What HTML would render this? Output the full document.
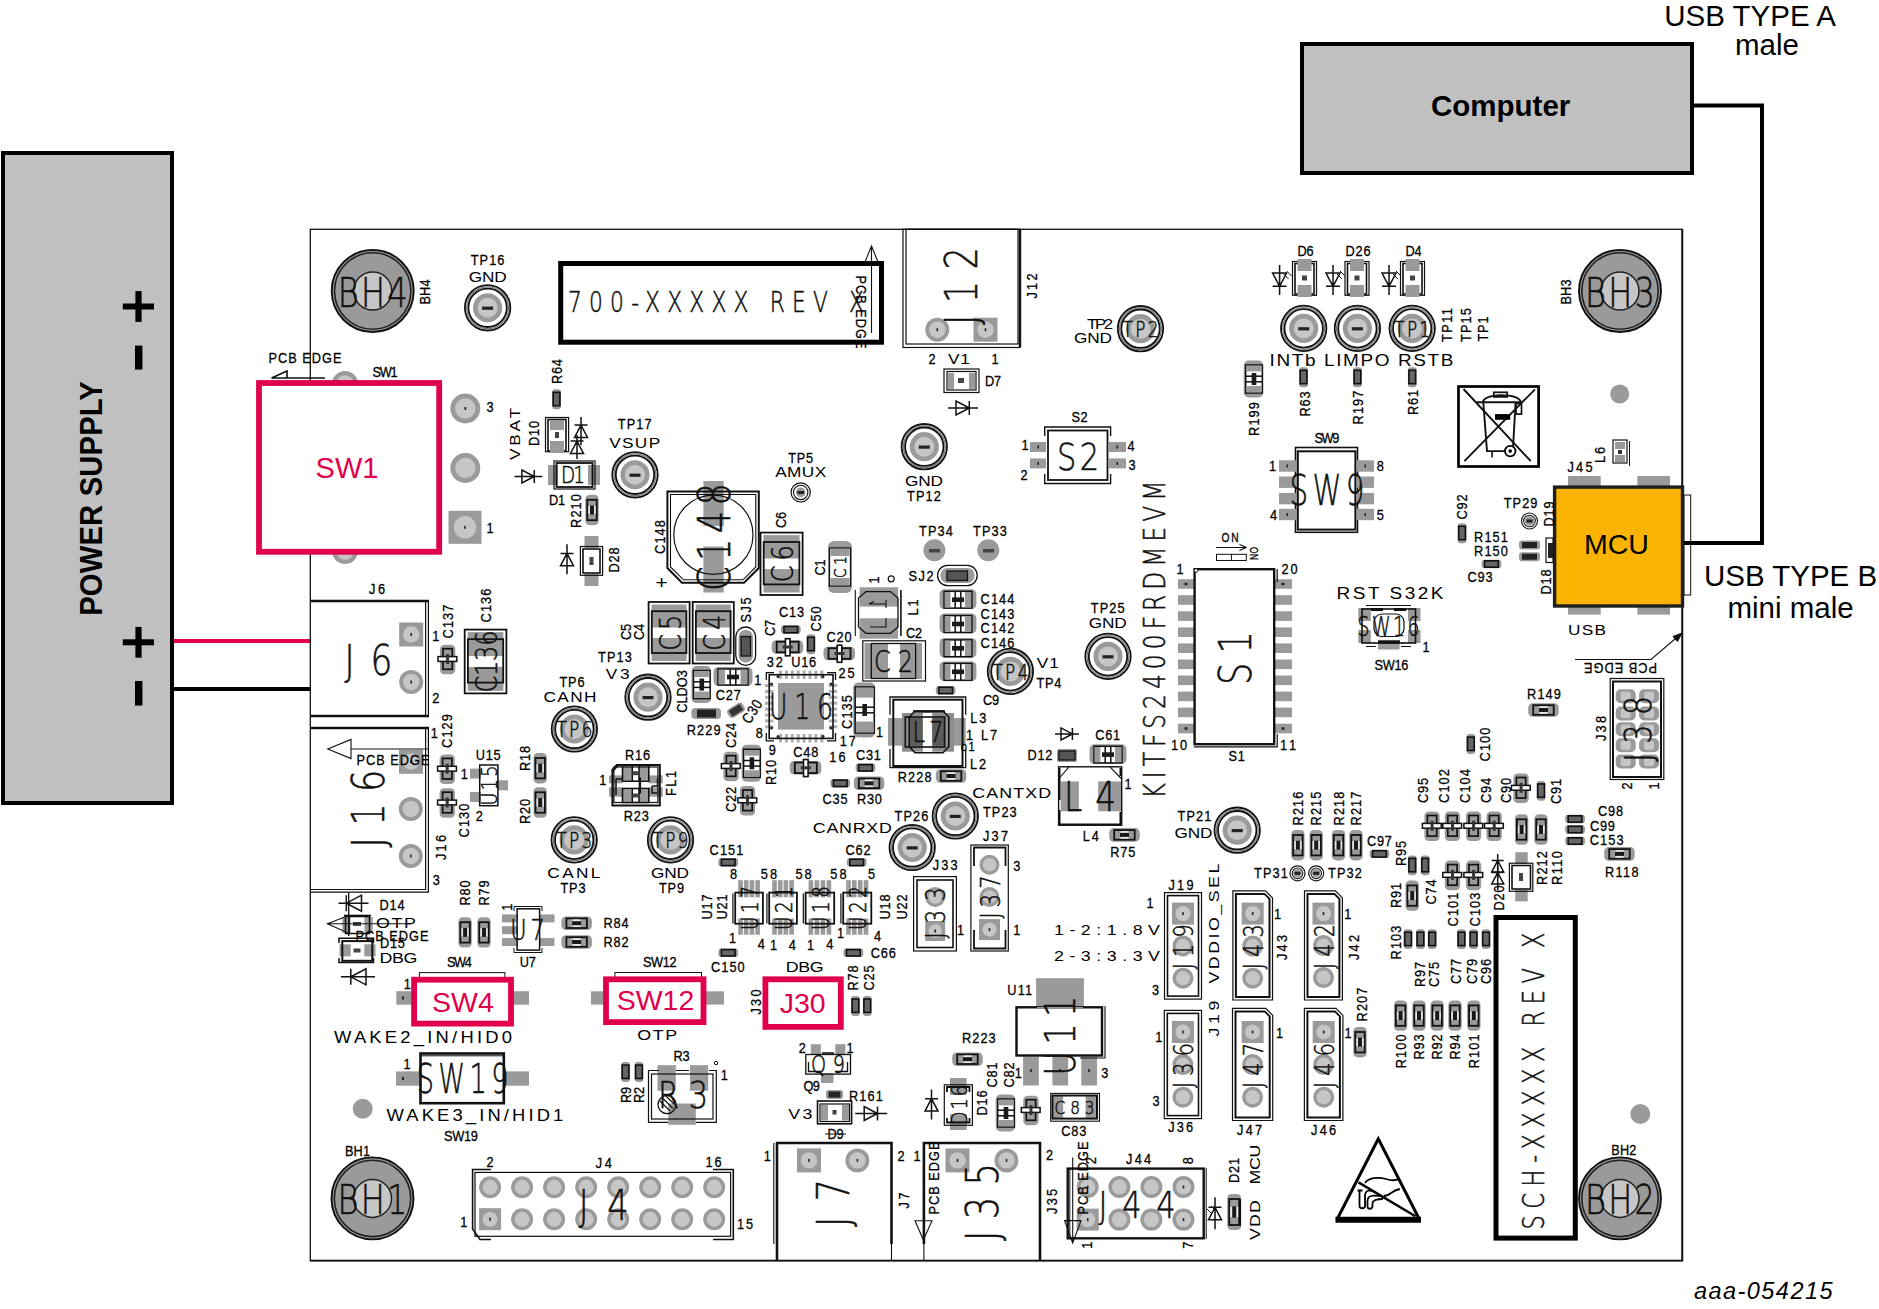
<!DOCTYPE html>
<html><head><meta charset="utf-8"><title>Board setup</title><style>html,body{margin:0;padding:0;background:#fff}
svg{display:block}
text{fill:#000;white-space:pre}
.a{font-family:"Liberation Sans",sans-serif;stroke:#000;stroke-width:0.3px}
.b{font-family:"Liberation Sans",sans-serif}
.B{font-family:"Liberation Sans",sans-serif;font-weight:bold}
.L{font-family:"DejaVu Sans Light","DejaVu Sans",sans-serif;font-weight:200;fill:#111;stroke:#111;stroke-width:0.55px}
</style></head><body>
<svg width="1879" height="1309" viewBox="0 0 1879 1309">
<rect x="3" y="153" width="169" height="650" fill="#c0c0c0" stroke="#000" stroke-width="4"/>
<text class="B" transform="translate(91.4,498.6) rotate(-90) scale(0.94,1)" x="-124.7" y="10.7" font-size="31" letter-spacing="0.23">POWER SUPPLY</text>
<rect x="122.8" y="303.5" width="31.2" height="6" fill="#000"/>
<rect x="135.4" y="291.1" width="6.2" height="30.8" fill="#000"/>
<rect x="122.8" y="639.3" width="31.2" height="6" fill="#000"/>
<rect x="135.4" y="626.9" width="6.2" height="30.8" fill="#000"/>
<rect x="135" y="345.6" width="7.4" height="24" fill="#000"/>
<rect x="135" y="681" width="7.4" height="24.6" fill="#000"/>
<line x1="174" y1="641" x2="311" y2="641" stroke="#e0004d" stroke-width="4"/>
<line x1="174" y1="689" x2="311" y2="689" stroke="#000" stroke-width="4"/>
<rect x="1302" y="44" width="390" height="129" fill="#c0c0c0" stroke="#000" stroke-width="4"/>
<text class="B" transform="translate(1500.7,106)" x="-69.7" y="10.1" font-size="29.5">Computer</text>
<text class="b" transform="translate(1750,15.5)" x="-85.8" y="10.1" font-size="29.5">USB TYPE A</text>
<text class="b" transform="translate(1767,45)" x="-32" y="10.1" font-size="29.5">male</text>
<path d="M1694 105.5H1762V543H1684" fill="none" stroke="#000" stroke-width="4" />
<text class="b" transform="translate(1790.5,576)" x="-86.6" y="10.1" font-size="29.5">USB TYPE B</text>
<text class="b" transform="translate(1790.5,607.4)" x="-63.1" y="10.1" font-size="29.5">mini male</text>
<text class="b" x="1694" y="1299.4" font-size="23.5" font-style="italic" textLength="138.5">aaa-054215</text>
<rect x="310.3" y="229.3" width="1372" height="1031.3" fill="none" stroke="#111" stroke-width="1.3"/>
<line x1="1682.3" y1="229.3" x2="1682.3" y2="1261" stroke="#111" stroke-width="1.9"/>
<line x1="310" y1="1260.7" x2="1683" y2="1260.7" stroke="#111" stroke-width="1.8"/>
<circle cx="372.7" cy="291" r="41" fill="#9a9a9a" stroke="#111" stroke-width="1.9"/>
<circle cx="372.7" cy="291" r="38.2" fill="none" stroke="#222" stroke-width="1.6"/>
<circle cx="372.7" cy="291" r="19" fill="#c6c6c6" stroke="#222" stroke-width="1.5"/>
<text class="L" transform="translate(372.7,292) scale(0.8,1)" x="-43.8" y="14.6" font-size="40" letter-spacing="2.89">BH4</text>
<text class="a" transform="translate(425,292) rotate(-90) scale(0.85,1)" x="-14.7" y="5.2" font-size="15" letter-spacing="0.12">BH4</text>
<text class="a" transform="translate(487.6,260) scale(0.85,1)" x="-19.9" y="5.2" font-size="15" letter-spacing="1.30">TP16</text>
<text class="b" transform="translate(487.6,277) scale(1.15,1)" x="-16.5" y="5.2" font-size="15" letter-spacing="-0.14">GND</text>
<circle cx="487.6" cy="307.8" r="22.7" fill="none" stroke="#111" stroke-width="1.8"/>
<circle cx="487.6" cy="307.8" r="20.9" fill="none" stroke="#777" stroke-width="1.2"/>
<circle cx="487.6" cy="307.8" r="19.2" fill="none" stroke="#111" stroke-width="1.8"/>
<circle cx="487.6" cy="307.8" r="14.6" fill="#9a9a9a" stroke="none" stroke-width="0"/>
<circle cx="487.6" cy="307.8" r="10" fill="#c6c6c6" stroke="none" stroke-width="0"/>
<rect x="482.1" y="306.6" width="11" height="3.2" fill="#222"/>
<text class="a" transform="translate(305,358) scale(0.85,1)" x="-42.9" y="5.2" font-size="15" letter-spacing="1.19">PCB EDGE</text>
<path d="M271.5 378L287 371V378 M271.5 378H325" fill="none" stroke="#111" stroke-width="1.6" />
<circle cx="345" cy="384" r="13" fill="#9a9a9a" stroke="none" stroke-width="0"/>
<circle cx="345" cy="384" r="8.8" fill="#c6c6c6" stroke="none" stroke-width="0"/>
<text class="a" transform="translate(385,371.5) scale(0.85,1)" x="-14.7" y="5.2" font-size="15" letter-spacing="-1.55">SW1</text>
<rect x="560.7" y="263.5" width="320.8" height="78.7" fill="none" stroke="#000" stroke-width="5"/>
<text class="L" transform="translate(716,301) scale(0.75,1)" x="-197.3" y="10.6" font-size="29" letter-spacing="9.60">700-XXXXX REV X</text>
<text class="a" transform="translate(861,312) rotate(90) scale(0.85,1)" x="-42.9" y="5.2" font-size="15" letter-spacing="1.19">PCB EDGE</text>
<path d="M871.5 246L865 262H878Z M871.5 246V333" fill="none" stroke="#111" stroke-width="1.1" />
<rect x="903" y="229.3" width="116.5" height="118.2" fill="none" stroke="#111" stroke-width="1.2"/>
<line x1="1020" y1="229.3" x2="1020" y2="347.5" stroke="#111" stroke-width="2.4"/>
<rect x="906" y="229.3" width="112" height="114.7" fill="none" stroke="#111" stroke-width="1.2"/>
<circle cx="937.3" cy="329.7" r="12" fill="#9a9a9a" stroke="none" stroke-width="0"/>
<circle cx="937.3" cy="329.7" r="8.2" fill="#c6c6c6" stroke="none" stroke-width="0"/>
<rect x="936.5" y="328.2" width="1.6" height="3" fill="#222"/>
<rect x="973.5" y="317.7" width="24" height="24" fill="#9a9a9a"/>
<circle cx="985.5" cy="329.7" r="8.2" fill="#c6c6c6" stroke="none" stroke-width="0"/>
<rect x="984.7" y="328.2" width="1.6" height="3" fill="#222"/>
<text class="L" transform="translate(961,286) rotate(-90) scale(0.8,1)" x="-48.8" y="16" font-size="44" letter-spacing="14.27">J12</text>
<text class="a" transform="translate(1032,286) rotate(-90) scale(0.85,1)" x="-14.7" y="5.2" font-size="15" letter-spacing="2.61">J12</text>
<text class="a" transform="translate(932,359) scale(0.85,1)" x="-4.2" y="5.2" font-size="15">2</text>
<text class="b" transform="translate(959,359) scale(1.15,1)" x="-9.6" y="5.2" font-size="15" letter-spacing="0.78">V1</text>
<text class="a" transform="translate(995,359) scale(0.85,1)" x="-4.2" y="5.2" font-size="15">1</text>
<rect x="944" y="369" width="35" height="23.5" fill="none" stroke="#111" stroke-width="1.2"/>
<rect x="947" y="371.5" width="29" height="18.5" fill="none" stroke="#111" stroke-width="1.2"/>
<rect x="948" y="373" width="6" height="16" fill="#9a9a9a"/>
<rect x="969" y="373" width="6" height="16" fill="#9a9a9a"/>
<rect x="958" y="378" width="6" height="5" fill="#444"/>
<text class="a" transform="translate(993,381) scale(0.85,1)" x="-9.5" y="5.2" font-size="15" letter-spacing="-0.12">D7</text>
<g transform="translate(963,408) rotate(0)" fill="none" stroke="#111" stroke-width="1.5">
<path d="M-15 0H15 M-7 -7V7 L6.3 0Z M6.3 -7V7"/>
</g>
<text class="b" transform="translate(1100,323.5) scale(1.15,1)" x="-11.3" y="5" font-size="14.5" letter-spacing="-1.99">TP2</text>
<text class="b" transform="translate(1093,338) scale(1.15,1)" x="-16.5" y="5.2" font-size="15" letter-spacing="-0.14">GND</text>
<circle cx="1140.5" cy="328.7" r="22.7" fill="none" stroke="#111" stroke-width="1.8"/>
<circle cx="1140.5" cy="328.7" r="20.9" fill="none" stroke="#777" stroke-width="1.2"/>
<circle cx="1140.5" cy="328.7" r="19.2" fill="none" stroke="#111" stroke-width="1.8"/>
<circle cx="1140.5" cy="328.7" r="14.6" fill="#9a9a9a" stroke="none" stroke-width="0"/>
<circle cx="1140.5" cy="328.7" r="10" fill="#c6c6c6" stroke="none" stroke-width="0"/>
<text class="L" transform="translate(1140.5,329.2) scale(0.8,1)" x="-22.5" y="7.7" font-size="21" letter-spacing="3.07">TP2</text>
<circle cx="924.3" cy="446.7" r="22.7" fill="none" stroke="#111" stroke-width="1.8"/>
<circle cx="924.3" cy="446.7" r="20.9" fill="none" stroke="#777" stroke-width="1.2"/>
<circle cx="924.3" cy="446.7" r="19.2" fill="none" stroke="#111" stroke-width="1.8"/>
<circle cx="924.3" cy="446.7" r="14.6" fill="#9a9a9a" stroke="none" stroke-width="0"/>
<circle cx="924.3" cy="446.7" r="10" fill="#c6c6c6" stroke="none" stroke-width="0"/>
<rect x="918.8" y="445.5" width="11" height="3.2" fill="#222"/>
<text class="b" transform="translate(924,481) scale(1.15,1)" x="-16.5" y="5.2" font-size="15" letter-spacing="-0.14">GND</text>
<text class="a" transform="translate(924,496) scale(0.85,1)" x="-19.9" y="5.2" font-size="15" letter-spacing="1.30">TP12</text>
<text class="a" transform="translate(1079.5,417) scale(0.85,1)" x="-9.5" y="5.2" font-size="15" letter-spacing="0.71">S2</text>
<path d="M1044.7 436V427H1110.6V436M1044.7 474V483.5H1110.6V474" fill="none" stroke="#111" stroke-width="1.4" />
<rect x="1048" y="430.5" width="59.5" height="49.5" fill="none" stroke="#111" stroke-width="1.8"/>
<rect x="1030" y="442" width="16" height="10" fill="#9a9a9a"/>
<rect x="1109" y="442" width="17" height="10" fill="#9a9a9a"/>
<rect x="1037.5" y="445.5" width="1.5" height="3" fill="#222"/>
<rect x="1116.5" y="445.5" width="1.5" height="3" fill="#222"/>
<rect x="1030" y="458.4" width="16" height="10" fill="#9a9a9a"/>
<rect x="1109" y="458.4" width="17" height="10" fill="#9a9a9a"/>
<rect x="1037.5" y="461.9" width="1.5" height="3" fill="#222"/>
<rect x="1116.5" y="461.9" width="1.5" height="3" fill="#222"/>
<text class="L" transform="translate(1078,456) scale(0.8,1)" x="-26.2" y="13.9" font-size="38" letter-spacing="4.20">S2</text>
<text class="a" transform="translate(1025,445) scale(0.85,1)" x="-4.2" y="5.2" font-size="15">1</text>
<text class="a" transform="translate(1024,475) scale(0.85,1)" x="-4.2" y="5.2" font-size="15">2</text>
<text class="a" transform="translate(1131,446) scale(0.85,1)" x="-4.2" y="5.2" font-size="15">4</text>
<text class="a" transform="translate(1132,465) scale(0.85,1)" x="-4.2" y="5.2" font-size="15">3</text>
<rect x="1243.7" y="360.5" width="19.6" height="37" fill="#9a9a9a" rx="5"/>
<rect x="1245.7" y="365" width="16.6" height="28" fill="#fff" stroke="#111" stroke-width="1.5"/>
<rect x="1246.4" y="365.7" width="15.2" height="5.7" fill="#9a9a9a"/>
<rect x="1246.4" y="386" width="15.2" height="6.3" fill="#9a9a9a"/>
<line x1="1245.7" y1="376.2" x2="1262.3" y2="376.2" stroke="#111" stroke-width="1.5"/>
<line x1="1245.7" y1="381.8" x2="1262.3" y2="381.8" stroke="#111" stroke-width="1.5"/>
<rect x="1251.7" y="373" width="4.6" height="12" fill="#1a1a1a"/>
<text class="a" transform="translate(1254,419) rotate(-90) scale(0.85,1)" x="-19.9" y="5.2" font-size="15" letter-spacing="1.30">R199</text>
<text class="a" transform="translate(1305.5,251) scale(0.85,1)" x="-9.5" y="5.2" font-size="15" letter-spacing="-0.12">D6</text>
<rect x="1292.5" y="261.5" width="24" height="33.8" fill="none" stroke="#111" stroke-width="1.2"/>
<rect x="1295" y="263.5" width="19" height="30.5" fill="none" stroke="#111" stroke-width="1.6"/>
<rect x="1297.5" y="259" width="14" height="12" fill="#9a9a9a"/>
<rect x="1297.5" y="285" width="14" height="12" fill="#9a9a9a"/>
<rect x="1302" y="275.5" width="5" height="5" fill="#444"/>
<g transform="translate(1279.6,280) rotate(90)" fill="none" stroke="#111" stroke-width="1.5">
<path d="M-15 0H15 M-7 -7V7 L6.3 0Z M6.3 -7V7"/>
</g>
<path d="M1283.6 274l5 5m-2 -8l5 5" fill="none" stroke="#111" stroke-width="1" />
<text class="a" transform="translate(1358,251) scale(0.85,1)" x="-14.7" y="5.2" font-size="15" letter-spacing="0.95">D26</text>
<rect x="1345" y="261.5" width="24" height="33.8" fill="none" stroke="#111" stroke-width="1.2"/>
<rect x="1347.5" y="263.5" width="19" height="30.5" fill="none" stroke="#111" stroke-width="1.6"/>
<rect x="1350" y="259" width="14" height="12" fill="#9a9a9a"/>
<rect x="1350" y="285" width="14" height="12" fill="#9a9a9a"/>
<rect x="1354.5" y="275.5" width="5" height="5" fill="#444"/>
<g transform="translate(1333,280) rotate(90)" fill="none" stroke="#111" stroke-width="1.5">
<path d="M-15 0H15 M-7 -7V7 L6.3 0Z M6.3 -7V7"/>
</g>
<path d="M1337 274l5 5m-2 -8l5 5" fill="none" stroke="#111" stroke-width="1" />
<text class="a" transform="translate(1413.5,251) scale(0.85,1)" x="-9.5" y="5.2" font-size="15" letter-spacing="-0.12">D4</text>
<rect x="1400.5" y="261.5" width="24" height="33.8" fill="none" stroke="#111" stroke-width="1.2"/>
<rect x="1403" y="263.5" width="19" height="30.5" fill="none" stroke="#111" stroke-width="1.6"/>
<rect x="1405.5" y="259" width="14" height="12" fill="#9a9a9a"/>
<rect x="1405.5" y="285" width="14" height="12" fill="#9a9a9a"/>
<rect x="1410" y="275.5" width="5" height="5" fill="#444"/>
<g transform="translate(1389,280) rotate(90)" fill="none" stroke="#111" stroke-width="1.5">
<path d="M-15 0H15 M-7 -7V7 L6.3 0Z M6.3 -7V7"/>
</g>
<path d="M1393 274l5 5m-2 -8l5 5" fill="none" stroke="#111" stroke-width="1" />
<circle cx="1303.7" cy="328.4" r="22.7" fill="none" stroke="#111" stroke-width="1.8"/>
<circle cx="1303.7" cy="328.4" r="20.9" fill="none" stroke="#777" stroke-width="1.2"/>
<circle cx="1303.7" cy="328.4" r="19.2" fill="none" stroke="#111" stroke-width="1.8"/>
<circle cx="1303.7" cy="328.4" r="14.6" fill="#9a9a9a" stroke="none" stroke-width="0"/>
<circle cx="1303.7" cy="328.4" r="10" fill="#c6c6c6" stroke="none" stroke-width="0"/>
<rect x="1298.2" y="327.2" width="11" height="3.2" fill="#222"/>
<circle cx="1357.4" cy="328.4" r="22.7" fill="none" stroke="#111" stroke-width="1.8"/>
<circle cx="1357.4" cy="328.4" r="20.9" fill="none" stroke="#777" stroke-width="1.2"/>
<circle cx="1357.4" cy="328.4" r="19.2" fill="none" stroke="#111" stroke-width="1.8"/>
<circle cx="1357.4" cy="328.4" r="14.6" fill="#9a9a9a" stroke="none" stroke-width="0"/>
<circle cx="1357.4" cy="328.4" r="10" fill="#c6c6c6" stroke="none" stroke-width="0"/>
<rect x="1351.9" y="327.2" width="11" height="3.2" fill="#222"/>
<circle cx="1412.2" cy="328.4" r="22.7" fill="none" stroke="#111" stroke-width="1.8"/>
<circle cx="1412.2" cy="328.4" r="20.9" fill="none" stroke="#777" stroke-width="1.2"/>
<circle cx="1412.2" cy="328.4" r="19.2" fill="none" stroke="#111" stroke-width="1.8"/>
<circle cx="1412.2" cy="328.4" r="14.6" fill="#9a9a9a" stroke="none" stroke-width="0"/>
<circle cx="1412.2" cy="328.4" r="10" fill="#c6c6c6" stroke="none" stroke-width="0"/>
<text class="L" transform="translate(1412.2,328.9) scale(0.8,1)" x="-22.5" y="7.7" font-size="21" letter-spacing="3.07">TP1</text>
<text class="b" transform="translate(1361.5,360) scale(1.15,1)" x="-80" y="5.7" font-size="16.5" letter-spacing="1.41">INTb LIMPO RSTB</text>
<text class="a" transform="translate(1446.5,325) rotate(-90) scale(0.85,1)" x="-19.9" y="5.2" font-size="15" letter-spacing="1.67">TP11</text>
<text class="a" transform="translate(1465.7,325) rotate(-90) scale(0.85,1)" x="-19.9" y="5.2" font-size="15" letter-spacing="1.30">TP15</text>
<text class="a" transform="translate(1482.8,329) rotate(-90) scale(0.85,1)" x="-14.7" y="5.2" font-size="15" letter-spacing="0.95">TP1</text>
<rect x="1299.2" y="367.3" width="8.7" height="19.9" fill="#9a9a9a" rx="3"/>
<rect x="1300.2" y="370.3" width="6.7" height="13.4" fill="#666" stroke="#111" stroke-width="1.6"/>
<rect x="1353.1" y="367.3" width="8.7" height="19.9" fill="#9a9a9a" rx="3"/>
<rect x="1354.1" y="370.3" width="6.7" height="13.4" fill="#666" stroke="#111" stroke-width="1.6"/>
<rect x="1407.9" y="367.3" width="8.7" height="19.9" fill="#9a9a9a" rx="3"/>
<rect x="1408.9" y="370.3" width="6.7" height="13.4" fill="#666" stroke="#111" stroke-width="1.6"/>
<text class="a" transform="translate(1305,404) rotate(-90) scale(0.85,1)" x="-14.7" y="5.2" font-size="15" letter-spacing="0.95">R63</text>
<text class="a" transform="translate(1358,407.5) rotate(-90) scale(0.85,1)" x="-19.9" y="5.2" font-size="15" letter-spacing="1.30">R197</text>
<text class="a" transform="translate(1413,402.5) rotate(-90) scale(0.85,1)" x="-14.7" y="5.2" font-size="15" letter-spacing="0.95">R61</text>
<circle cx="1620" cy="291" r="41" fill="#9a9a9a" stroke="#111" stroke-width="1.9"/>
<circle cx="1620" cy="291" r="38.2" fill="none" stroke="#222" stroke-width="1.6"/>
<circle cx="1620" cy="291" r="19" fill="#c6c6c6" stroke="#222" stroke-width="1.5"/>
<text class="L" transform="translate(1620,292) scale(0.8,1)" x="-43.8" y="14.6" font-size="40" letter-spacing="2.89">BH3</text>
<text class="a" transform="translate(1566,292) rotate(-90) scale(0.85,1)" x="-14.7" y="5.2" font-size="15" letter-spacing="0.12">BH3</text>
<circle cx="1619.7" cy="394" r="9.5" fill="#9a9a9a" stroke="none" stroke-width="0"/>
<rect x="1458.5" y="386.5" width="80.1" height="80" fill="none" stroke="#000" stroke-width="2.7"/>
<path d="M1463.5 389L1530.8 461.2M1535 389.3L1464.4 461.2" fill="none" stroke="#111" stroke-width="1.9" />
<path d="M1483.3 402.4L1487 451.1H1506M1515.6 402.4L1513.1 446" fill="none" stroke="#111" stroke-width="1.9" />
<path d="M1476.1 402.3H1521.5M1482.9 402c1 -4 8 -6.5 18 -6.8c10 0 18 2 20 6.5" fill="none" stroke="#111" stroke-width="1.9" />
<rect x="1493.8" y="392.3" width="13.4" height="4.6" fill="none" stroke="#111" stroke-width="1.7"/>
<rect x="1516" y="403.6" width="5.5" height="10.5" fill="none" stroke="#111" stroke-width="1.7"/>
<rect x="1495" y="414.1" width="15.2" height="5.7" fill="#000"/>
<circle cx="1510.2" cy="451.1" r="5.3" fill="#fff" stroke="#000" stroke-width="1.8"/>
<circle cx="1510.2" cy="451.1" r="1.8" fill="#000" stroke="none" stroke-width="0"/>
<line x1="1492.1" y1="452" x2="1492.1" y2="457.4" stroke="#111" stroke-width="1.6"/>
<text class="a" transform="translate(1600,455) rotate(-90) scale(0.85,1)" x="-9.5" y="5.2" font-size="15" letter-spacing="2.37">L6</text>
<rect x="1613" y="440" width="14" height="23" fill="none" stroke="#111" stroke-width="1.2"/>
<rect x="1615" y="442" width="10" height="7" fill="#9a9a9a"/>
<rect x="1615" y="455" width="10" height="7" fill="#9a9a9a"/>
<rect x="1618" y="450" width="4" height="4" fill="#333"/>
<line x1="1629.5" y1="441" x2="1629.5" y2="466" stroke="#111" stroke-width="1"/>
<text class="a" transform="translate(1580,467) scale(0.85,1)" x="-14.7" y="5.2" font-size="15" letter-spacing="2.61">J45</text>
<rect x="1568" y="476" width="32.7" height="11" fill="#9a9a9a"/>
<rect x="1637.4" y="476" width="32.6" height="11" fill="#9a9a9a"/>
<rect x="1568" y="606" width="32.7" height="8.6" fill="#9a9a9a"/>
<rect x="1637.4" y="606" width="32.6" height="8.6" fill="#9a9a9a"/>
<rect x="1684" y="495" width="6.7" height="100" fill="none" stroke="#111" stroke-width="1"/>
<rect x="1554.6" y="487.1" width="127.9" height="118.9" fill="#f9b300" stroke="#1f1f1f" stroke-width="3.4"/>
<text class="b" transform="translate(1616.4,543.8)" x="-32.5" y="9.8" font-size="28.5">MCU</text>
<text class="b" transform="translate(1587,629.5) scale(1.15,1)" x="-16.5" y="5.2" font-size="15" letter-spacing="1.10">USB</text>
<text class="a" transform="translate(1462,507) rotate(-90) scale(0.85,1)" x="-14.7" y="5.2" font-size="15" letter-spacing="0.95">C92</text>
<rect x="1457.7" y="523.3" width="8.7" height="19.9" fill="#9a9a9a" rx="3"/>
<rect x="1458.7" y="526.3" width="6.7" height="13.4" fill="#666" stroke="#111" stroke-width="1.6"/>
<text class="a" transform="translate(1491,536.5) scale(0.85,1)" x="-19.9" y="5.2" font-size="15" letter-spacing="1.30">R151</text>
<text class="a" transform="translate(1491,551) scale(0.85,1)" x="-19.9" y="5.2" font-size="15" letter-spacing="1.30">R150</text>
<rect x="1481.6" y="559.8" width="19.7" height="8.4" fill="#9a9a9a" rx="3"/>
<rect x="1484.6" y="560.8" width="13.7" height="6.4" fill="#666" stroke="#111" stroke-width="1.6"/>
<text class="a" transform="translate(1480,577) scale(0.85,1)" x="-14.7" y="5.2" font-size="15" letter-spacing="0.95">C93</text>
<text class="a" transform="translate(1520.6,503) scale(0.85,1)" x="-19.9" y="5.2" font-size="15" letter-spacing="1.30">TP29</text>
<circle cx="1529.5" cy="521" r="8" fill="none" stroke="#1a1a1a" stroke-width="1.2"/>
<circle cx="1529.5" cy="521" r="5.8" fill="none" stroke="#1a1a1a" stroke-width="1.1"/>
<circle cx="1529.5" cy="521" r="4.7" fill="#9a9a9a" stroke="none" stroke-width="0"/>
<rect x="1526.5" y="519.5" width="6" height="3" fill="#222"/>
<text class="a" transform="translate(1549,514) rotate(-90) scale(0.85,1)" x="-14.7" y="5.2" font-size="15" letter-spacing="0.95">D19</text>
<text class="a" transform="translate(1546,582) rotate(-90) scale(0.85,1)" x="-14.7" y="5.2" font-size="15" letter-spacing="0.95">D18</text>
<rect x="1546" y="538" width="7" height="24.5" fill="#fff" stroke="#111" stroke-width="1.2"/>
<rect x="1548" y="543" width="5" height="15" fill="#222"/>
<rect x="1519" y="540.5" width="21" height="9" fill="#9a9a9a" rx="3"/>
<rect x="1522" y="542" width="15" height="6" fill="#222"/>
<rect x="1519" y="552.2" width="21" height="9" fill="#9a9a9a" rx="3"/>
<rect x="1522" y="553.7" width="15" height="6" fill="#222"/>
<path d="M1575 659.5H1651L1682 633" fill="none" stroke="#111" stroke-width="1.1" />
<path d="M1682 633l-9 3.5l4.5 5z" fill="#111" stroke="#111" stroke-width="1" />
<text class="a" transform="translate(1620.5,668) rotate(180) scale(0.85,1)" x="-42.9" y="5.2" font-size="15" letter-spacing="1.19">PCB EDGE</text>
<rect x="1610.2" y="678.5" width="53.6" height="101" fill="none" stroke="#111" stroke-width="1.2"/>
<rect x="1613" y="681.5" width="48" height="95.5" fill="none" stroke="#111" stroke-width="2"/>
<rect x="1615.7" y="689.3" width="20" height="14" fill="#9a9a9a" rx="5"/>
<rect x="1620.7" y="691.8" width="10" height="9" fill="#c6c6c6" rx="2"/>
<rect x="1639.1" y="689.3" width="20" height="14" fill="#9a9a9a" rx="5"/>
<rect x="1644.1" y="691.8" width="10" height="9" fill="#c6c6c6" rx="2"/>
<rect x="1615.7" y="706.5" width="20" height="14" fill="#9a9a9a" rx="5"/>
<rect x="1620.7" y="709" width="10" height="9" fill="#c6c6c6" rx="2"/>
<rect x="1639.1" y="706.5" width="20" height="14" fill="#9a9a9a" rx="5"/>
<rect x="1644.1" y="709" width="10" height="9" fill="#c6c6c6" rx="2"/>
<rect x="1615.7" y="722.3" width="20" height="14" fill="#9a9a9a" rx="5"/>
<rect x="1620.7" y="724.8" width="10" height="9" fill="#c6c6c6" rx="2"/>
<rect x="1639.1" y="722.3" width="20" height="14" fill="#9a9a9a" rx="5"/>
<rect x="1644.1" y="724.8" width="10" height="9" fill="#c6c6c6" rx="2"/>
<rect x="1615.7" y="738.2" width="20" height="14" fill="#9a9a9a" rx="5"/>
<rect x="1620.7" y="740.7" width="10" height="9" fill="#c6c6c6" rx="2"/>
<rect x="1639.1" y="738.2" width="20" height="14" fill="#9a9a9a" rx="5"/>
<rect x="1644.1" y="740.7" width="10" height="9" fill="#c6c6c6" rx="2"/>
<rect x="1615.7" y="754.4" width="20" height="14" fill="#9a9a9a" rx="5"/>
<rect x="1620.7" y="756.9" width="10" height="9" fill="#c6c6c6" rx="2"/>
<rect x="1639.1" y="754.4" width="20" height="14" fill="#9a9a9a" rx="5"/>
<rect x="1644.1" y="756.9" width="10" height="9" fill="#c6c6c6" rx="2"/>
<text class="L" transform="translate(1637,729) rotate(-90) scale(0.8,1)" x="-41.2" y="13.9" font-size="38" letter-spacing="11.47">J38</text>
<text class="a" transform="translate(1600.7,728.5) rotate(-90) scale(0.85,1)" x="-14.7" y="5.2" font-size="15" letter-spacing="2.61">J38</text>
<text class="a" transform="translate(1626.5,786) rotate(-90) scale(0.85,1)" x="-4.2" y="5.2" font-size="15">2</text>
<text class="a" transform="translate(1653.4,786) rotate(-90) scale(0.85,1)" x="-4.2" y="5.2" font-size="15">1</text>
<text class="a" transform="translate(1544,694) scale(0.85,1)" x="-19.9" y="5.2" font-size="15" letter-spacing="1.30">R149</text>
<rect x="1528.2" y="703.2" width="30.5" height="13.6" fill="#9a9a9a" rx="4.5"/>
<rect x="1533.2" y="705.2" width="20.5" height="9.6" fill="#9a9a9a" stroke="#111" stroke-width="1.8"/>
<rect x="1539.4" y="706.2" width="8.2" height="7.6" fill="#e8e8e8"/>
<rect x="1539" y="708" width="9" height="4" fill="#1a1a1a"/>
<text class="a" transform="translate(1326.9,438) scale(0.85,1)" x="-14.7" y="5.2" font-size="15" letter-spacing="-1.55">SW9</text>
<rect x="1295.5" y="447.5" width="62" height="84.8" fill="none" stroke="#111" stroke-width="1.6"/>
<rect x="1297.8" y="451.3" width="57.6" height="78.3" fill="none" stroke="#111" stroke-width="2"/>
<rect x="1279" y="460.3" width="17.5" height="11.4" fill="#9a9a9a"/>
<rect x="1356.5" y="460.3" width="17.5" height="11.4" fill="#9a9a9a"/>
<rect x="1279" y="476.5" width="17.5" height="11.4" fill="#9a9a9a"/>
<rect x="1356.5" y="476.5" width="17.5" height="11.4" fill="#9a9a9a"/>
<rect x="1279" y="492.9" width="17.5" height="11.4" fill="#9a9a9a"/>
<rect x="1356.5" y="492.9" width="17.5" height="11.4" fill="#9a9a9a"/>
<rect x="1279" y="508.8" width="17.5" height="11.4" fill="#9a9a9a"/>
<rect x="1356.5" y="508.8" width="17.5" height="11.4" fill="#9a9a9a"/>
<rect x="1286.5" y="464.5" width="1.5" height="3" fill="#222"/>
<rect x="1364.5" y="464.5" width="1.5" height="3" fill="#222"/>
<rect x="1286.5" y="513" width="1.5" height="3" fill="#222"/>
<rect x="1364.5" y="513" width="1.5" height="3" fill="#222"/>
<text class="L" transform="translate(1327,490) scale(0.7,1)" x="-53.6" y="15.3" font-size="42" letter-spacing="6.12">SW9</text>
<text class="a" transform="translate(1272.6,466) scale(0.85,1)" x="-4.2" y="5.2" font-size="15">1</text>
<text class="a" transform="translate(1273.5,514.5) scale(0.85,1)" x="-4.2" y="5.2" font-size="15">4</text>
<text class="a" transform="translate(1380.2,466) scale(0.85,1)" x="-4.2" y="5.2" font-size="15">8</text>
<text class="a" transform="translate(1380.2,514.5) scale(0.85,1)" x="-4.2" y="5.2" font-size="15">5</text>
<rect x="1178" y="579.2" width="17" height="9.6" fill="#9a9a9a"/>
<rect x="1274" y="579.2" width="18" height="9.6" fill="#9a9a9a"/>
<rect x="1178" y="595.2" width="17" height="9.6" fill="#9a9a9a"/>
<rect x="1274" y="595.2" width="18" height="9.6" fill="#9a9a9a"/>
<rect x="1178" y="611.3" width="17" height="9.6" fill="#9a9a9a"/>
<rect x="1274" y="611.3" width="18" height="9.6" fill="#9a9a9a"/>
<rect x="1178" y="627.4" width="17" height="9.6" fill="#9a9a9a"/>
<rect x="1274" y="627.4" width="18" height="9.6" fill="#9a9a9a"/>
<rect x="1178" y="643.4" width="17" height="9.6" fill="#9a9a9a"/>
<rect x="1274" y="643.4" width="18" height="9.6" fill="#9a9a9a"/>
<rect x="1178" y="659.5" width="17" height="9.6" fill="#9a9a9a"/>
<rect x="1274" y="659.5" width="18" height="9.6" fill="#9a9a9a"/>
<rect x="1178" y="675.5" width="17" height="9.6" fill="#9a9a9a"/>
<rect x="1274" y="675.5" width="18" height="9.6" fill="#9a9a9a"/>
<rect x="1178" y="691.6" width="17" height="9.6" fill="#9a9a9a"/>
<rect x="1274" y="691.6" width="18" height="9.6" fill="#9a9a9a"/>
<rect x="1178" y="707.6" width="17" height="9.6" fill="#9a9a9a"/>
<rect x="1274" y="707.6" width="18" height="9.6" fill="#9a9a9a"/>
<rect x="1178" y="723.7" width="17" height="9.6" fill="#9a9a9a"/>
<rect x="1274" y="723.7" width="18" height="9.6" fill="#9a9a9a"/>
<rect x="1184.5" y="582.8" width="3" height="2.4" fill="#222"/>
<rect x="1281.5" y="582.8" width="3" height="2.4" fill="#222"/>
<rect x="1184.5" y="727.3" width="3" height="2.4" fill="#222"/>
<rect x="1281.5" y="727.3" width="3" height="2.4" fill="#222"/>
<rect x="1194.6" y="569.2" width="79.6" height="175" fill="#fff" stroke="#111" stroke-width="2.4"/>
<path d="M1277.2 569V582M1277.2 734V746.8H1194" fill="none" stroke="#111" stroke-width="1.2" />
<circle cx="1196" cy="570.5" r="1.8" fill="#fff" stroke="#111" stroke-width="0.9"/>
<text class="L" transform="translate(1234.9,658) rotate(-90) scale(0.8,1)" x="-33.8" y="16" font-size="44" letter-spacing="11.58">S1</text>
<text class="a" transform="translate(1180,569) scale(0.85,1)" x="-4.2" y="5.2" font-size="15">1</text>
<text class="a" transform="translate(1289.5,569) scale(0.85,1)" x="-9.5" y="5.2" font-size="15" letter-spacing="2.37">20</text>
<text class="a" transform="translate(1179,745) scale(0.85,1)" x="-9.5" y="5.2" font-size="15" letter-spacing="2.37">10</text>
<text class="a" transform="translate(1288,745) scale(0.85,1)" x="-9.5" y="5.2" font-size="15" letter-spacing="3.49">11</text>
<text class="a" transform="translate(1236.6,755.5) scale(0.85,1)" x="-9.5" y="5.2" font-size="15" letter-spacing="0.71">S1</text>
<text class="a" transform="translate(1230,537.5) scale(0.85,1)" x="-10" y="4.1" font-size="12" letter-spacing="2.00">ON</text>
<path d="M1216 547.5H1246M1246.5 547.5l-7 -3M1246.5 547.5l-7 3" fill="none" stroke="#111" stroke-width="1.2" />
<rect x="1216.5" y="554.3" width="29.8" height="6.2" fill="none" stroke="#111" stroke-width="1"/>
<line x1="1231.4" y1="554.3" x2="1231.4" y2="560.5" stroke="#111" stroke-width="1"/>
<text class="a" transform="translate(1255,553.5) rotate(-90) scale(0.85,1)" x="-7.6" y="3.4" font-size="10" letter-spacing="0.29">NO</text>
<text class="b" transform="translate(1390,593) scale(1.15,1)" x="-46.5" y="5.7" font-size="16.5" letter-spacing="2.20">RST S32K</text>
<rect x="1358.3" y="608" width="12.5" height="13" fill="#9a9a9a"/>
<rect x="1358.3" y="630" width="12.5" height="13" fill="#9a9a9a"/>
<rect x="1408" y="608" width="12.5" height="13" fill="#9a9a9a"/>
<rect x="1408" y="630" width="12.5" height="13" fill="#9a9a9a"/>
<rect x="1378" y="640" width="21.6" height="9.5" fill="#9a9a9a"/>
<rect x="1362" y="609" width="53.5" height="34" fill="none" stroke="#111" stroke-width="1.6"/>
<rect x="1371" y="608" width="12" height="3" fill="#111"/>
<rect x="1394" y="608" width="12" height="3" fill="#111"/>
<rect x="1378" y="640.5" width="22" height="3" fill="#111"/>
<line x1="1366" y1="605.5" x2="1411" y2="605.5" stroke="#111" stroke-width="1"/>
<line x1="1366" y1="646.5" x2="1376" y2="646.5" stroke="#111" stroke-width="1"/>
<line x1="1401" y1="646.5" x2="1411" y2="646.5" stroke="#111" stroke-width="1"/>
<rect x="1374" y="614" width="30" height="22.5" fill="#fff" stroke="#111" stroke-width="1.2" rx="8"/>
<text class="L" transform="translate(1388.5,626) scale(0.7,1)" x="-44.3" y="9.8" font-size="27" letter-spacing="3.46">SW16</text>
<text class="a" transform="translate(1426,647) scale(0.85,1)" x="-4.2" y="5.2" font-size="15">1</text>
<text class="a" transform="translate(1391.4,665) scale(0.85,1)" x="-19.9" y="5.2" font-size="15" letter-spacing="-0.36">SW16</text>
<circle cx="345" cy="551" r="13" fill="#9a9a9a" stroke="none" stroke-width="0"/>
<circle cx="345" cy="551" r="8.8" fill="#c6c6c6" stroke="none" stroke-width="0"/>
<circle cx="465.3" cy="408.5" r="15" fill="#9a9a9a" stroke="none" stroke-width="0"/>
<circle cx="465.3" cy="408.5" r="10.2" fill="#c6c6c6" stroke="none" stroke-width="0"/>
<rect x="464.5" y="407" width="1.6" height="3" fill="#222"/>
<circle cx="465.3" cy="468" r="15" fill="#9a9a9a" stroke="none" stroke-width="0"/>
<circle cx="465.3" cy="468" r="10.2" fill="#c6c6c6" stroke="none" stroke-width="0"/>
<rect x="448.5" y="510.8" width="33" height="33" fill="#9a9a9a"/>
<circle cx="465" cy="527.3" r="11.2" fill="#c6c6c6" stroke="none" stroke-width="0"/>
<rect x="464.2" y="525.8" width="1.6" height="3" fill="#222"/>
<text class="a" transform="translate(490,406.5) scale(0.85,1)" x="-4.2" y="5.2" font-size="15">3</text>
<text class="a" transform="translate(490,528) scale(0.85,1)" x="-4.2" y="5.2" font-size="15">1</text>
<rect x="259" y="383" width="180.2" height="168.8" fill="#fff" stroke="#e0004d" stroke-width="5.8"/>
<text class="b" transform="translate(347,468)" x="-31.4" y="10" font-size="29" style="fill:#e0004d">SW1</text>
<text class="b" transform="translate(514.5,434) rotate(-90) scale(1.15,1)" x="-22.6" y="5.2" font-size="15" letter-spacing="2.38">VBAT</text>
<text class="a" transform="translate(533.7,433.5) rotate(-90) scale(0.85,1)" x="-14.7" y="5.2" font-size="15" letter-spacing="0.95">D10</text>
<text class="a" transform="translate(557,371.6) rotate(-90) scale(0.85,1)" x="-14.7" y="5.2" font-size="15" letter-spacing="0.95">R64</text>
<rect x="552.2" y="389.3" width="8.7" height="19.9" fill="#9a9a9a" rx="3"/>
<rect x="553.2" y="392.3" width="6.7" height="13.4" fill="#666" stroke="#111" stroke-width="1.6"/>
<rect x="545.5" y="417.5" width="23.1" height="34.2" fill="none" stroke="#111" stroke-width="1.2"/>
<rect x="548" y="419.5" width="18" height="31.5" fill="none" stroke="#111" stroke-width="1.6"/>
<rect x="550" y="420" width="14" height="10" fill="#9a9a9a"/>
<rect x="550" y="441" width="14" height="12" fill="#9a9a9a"/>
<rect x="555" y="432" width="4" height="6" fill="#444"/>
<g transform="translate(581,431) rotate(-90)" fill="none" stroke="#111" stroke-width="1.5">
<path d="M-14 0H14 M-6.5 -6.5V6.5 L5.9 0Z M5.9 -6.5V6.5"/>
</g>
<g transform="translate(577,447) rotate(-90)" fill="none" stroke="#111" stroke-width="1.5">
<path d="M-12 0H12 M-6.5 -6.5V6.5 L5.9 0Z M5.9 -6.5V6.5"/>
</g>
<text class="a" transform="translate(634.7,424) scale(0.85,1)" x="-19.9" y="5.2" font-size="15" letter-spacing="1.30">TP17</text>
<text class="b" transform="translate(634.7,443) scale(1.15,1)" x="-22.2" y="5.2" font-size="15" letter-spacing="1.17">VSUP</text>
<circle cx="635" cy="474.8" r="22.7" fill="none" stroke="#111" stroke-width="1.8"/>
<circle cx="635" cy="474.8" r="20.9" fill="none" stroke="#777" stroke-width="1.2"/>
<circle cx="635" cy="474.8" r="19.2" fill="none" stroke="#111" stroke-width="1.8"/>
<circle cx="635" cy="474.8" r="14.6" fill="#9a9a9a" stroke="none" stroke-width="0"/>
<circle cx="635" cy="474.8" r="10" fill="#c6c6c6" stroke="none" stroke-width="0"/>
<rect x="629.5" y="473.6" width="11" height="3.2" fill="#222"/>
<rect x="548" y="465" width="10" height="20" fill="#9a9a9a"/>
<rect x="588" y="465" width="12" height="20" fill="#9a9a9a"/>
<rect x="554" y="461" width="41" height="28" fill="none" stroke="#111" stroke-width="1.2"/>
<rect x="556.5" y="463" width="36" height="24" fill="none" stroke="#111" stroke-width="1.8"/>
<text class="L" transform="translate(573,475) scale(0.8,1)" x="-15" y="8.4" font-size="23" letter-spacing="-2.34">D1</text>
<g transform="translate(528.4,476.5) rotate(0)" fill="none" stroke="#111" stroke-width="1.5">
<path d="M-14 0H14 M-6.5 -6.5V6.5 L5.9 0Z M5.9 -6.5V6.5"/>
</g>
<text class="a" transform="translate(557,500) scale(0.85,1)" x="-9.5" y="5.2" font-size="15" letter-spacing="-0.12">D1</text>
<text class="a" transform="translate(575.5,511) rotate(-90) scale(0.85,1)" x="-19.9" y="5.2" font-size="15" letter-spacing="1.30">R210</text>
<rect x="585.3" y="494.8" width="13.4" height="30.4" fill="#9a9a9a" rx="4.5"/>
<rect x="587.3" y="499.8" width="9.4" height="20.4" fill="#9a9a9a" stroke="#111" stroke-width="1.8"/>
<rect x="588.3" y="505.9" width="7.4" height="8.2" fill="#e8e8e8"/>
<rect x="590" y="505.5" width="4" height="9" fill="#1a1a1a"/>
<g transform="translate(567,559.3) rotate(-90)" fill="none" stroke="#111" stroke-width="1.5">
<path d="M-15 0H15 M-6.5 -6.5V6.5 L5.9 0Z M5.9 -6.5V6.5"/>
</g>
<rect x="584.5" y="536" width="14" height="12" fill="#9a9a9a"/>
<rect x="584.5" y="574" width="14" height="12" fill="#9a9a9a"/>
<rect x="580.4" y="546.5" width="22.2" height="28.8" fill="none" stroke="#111" stroke-width="1.2"/>
<rect x="583" y="549" width="17" height="24" fill="none" stroke="#111" stroke-width="1.6"/>
<rect x="589.5" y="557" width="4" height="8" fill="#444"/>
<text class="a" transform="translate(614,560) rotate(-90) scale(0.85,1)" x="-14.7" y="5.2" font-size="15" letter-spacing="0.95">D28</text>
<text class="a" transform="translate(660,537) rotate(-90) scale(0.85,1)" x="-19.9" y="5.2" font-size="15" letter-spacing="1.30">C148</text>
<rect x="703.4" y="481" width="20.3" height="45" fill="#9a9a9a"/>
<rect x="703.4" y="546.5" width="20.3" height="46" fill="#9a9a9a"/>
<path d="M667.4 491.5H758.8V568L744 582.8H682L667.4 568Z" fill="none" stroke="#111" stroke-width="2" />
<path d="M670.5 494.5H755.8V567L743 579.8H683.5L670.5 567Z" fill="none" stroke="#111" stroke-width="1.1" />
<circle cx="713.4" cy="534.7" r="39.6" fill="none" stroke="#111" stroke-width="1.2"/>
<text class="L" transform="translate(714,537) rotate(-90) scale(0.8,1)" x="-67.5" y="16" font-size="44" letter-spacing="6.76">C148</text>
<text class="b" transform="translate(661.7,582.4) scale(1.15,1)" x="-5.3" y="6.2" font-size="18">+</text>
<text class="a" transform="translate(800.7,457.5) scale(0.85,1)" x="-14.7" y="5.2" font-size="15" letter-spacing="0.95">TP5</text>
<text class="b" transform="translate(800.7,471.5) scale(1.15,1)" x="-22.2" y="5.2" font-size="15" letter-spacing="0.34">AMUX</text>
<circle cx="800.7" cy="492.4" r="9.6" fill="none" stroke="#111" stroke-width="1.2"/>
<circle cx="800.7" cy="492.4" r="7.2" fill="none" stroke="#111" stroke-width="1.1"/>
<circle cx="800.7" cy="492.4" r="4.8" fill="#9a9a9a" stroke="none" stroke-width="0"/>
<rect x="797.5" y="491" width="6.5" height="3" fill="#222"/>
<text class="a" transform="translate(780.8,520) rotate(-90) scale(0.85,1)" x="-9.5" y="5.2" font-size="15" letter-spacing="-0.12">C6</text>
<rect x="760.5" y="532.6" width="42.1" height="62.4" fill="none" stroke="#111" stroke-width="1.8"/>
<rect x="763.5" y="535.1" width="36.1" height="23.4" fill="#9a9a9a"/>
<rect x="763.5" y="569.1" width="36.1" height="23.4" fill="#9a9a9a"/>
<rect x="763.7" y="542" width="35.7" height="42.4" fill="none" stroke="#111" stroke-width="1.8"/>
<text class="L" transform="translate(782,563.8) rotate(-90) scale(0.8,1)" x="-23.1" y="10.9" font-size="30" letter-spacing="6.21">C6</text>
<text class="a" transform="translate(819.3,567.5) rotate(-90) scale(0.85,1)" x="-9.5" y="5.2" font-size="15" letter-spacing="-0.12">C1</text>
<rect x="828" y="541" width="24" height="52" fill="#9a9a9a" rx="6"/>
<rect x="829.5" y="548" width="21" height="38" fill="#fff" stroke="#111" stroke-width="1.3"/>
<rect x="830.5" y="549" width="19" height="7" fill="#9a9a9a"/>
<rect x="830.5" y="578" width="19" height="7" fill="#9a9a9a"/>
<text class="L" transform="translate(840.5,567) rotate(-90) scale(0.85,1)" x="-12.9" y="5.8" font-size="16" letter-spacing="4.53">C1</text>
<rect x="648.6" y="602" width="41" height="61.5" fill="none" stroke="#111" stroke-width="1.8"/>
<rect x="651.6" y="604.5" width="35" height="23" fill="#9a9a9a"/>
<rect x="651.6" y="638" width="35" height="23" fill="#9a9a9a"/>
<rect x="651.8" y="611.2" width="34.6" height="41.8" fill="none" stroke="#111" stroke-width="1.8"/>
<text class="L" transform="translate(669.6,632.8) rotate(-90) scale(0.8,1)" x="-22.5" y="10.9" font-size="30" letter-spacing="4.96">C5</text>
<rect x="692.7" y="602" width="41.1" height="61.5" fill="none" stroke="#111" stroke-width="1.8"/>
<rect x="695.7" y="604.5" width="35.1" height="23" fill="#9a9a9a"/>
<rect x="695.7" y="638" width="35.1" height="23" fill="#9a9a9a"/>
<rect x="695.9" y="611.2" width="34.7" height="41.8" fill="none" stroke="#111" stroke-width="1.8"/>
<text class="L" transform="translate(713.8,632.8) rotate(-90) scale(0.8,1)" x="-22.5" y="10.9" font-size="30" letter-spacing="4.96">C4</text>
<text class="a" transform="translate(625.7,632) rotate(-90) scale(0.85,1)" x="-9.5" y="5.2" font-size="15" letter-spacing="-0.12">C5</text>
<text class="a" transform="translate(639,632) rotate(-90) scale(0.85,1)" x="-9.5" y="5.2" font-size="15" letter-spacing="-0.12">C4</text>
<text class="a" transform="translate(745.5,610) rotate(-90) scale(0.85,1)" x="-14.7" y="5.2" font-size="15" letter-spacing="1.78">SJ5</text>
<rect x="735.8" y="627" width="19.8" height="38.4" fill="#fff" stroke="#111" stroke-width="1.3" rx="9.8"/>
<rect x="738.5" y="630" width="14.5" height="32.5" fill="#9a9a9a" rx="7"/>
<rect x="741" y="636.5" width="9.5" height="19.5" fill="#555" stroke="#111" stroke-width="1.3"/>
<text class="a" transform="translate(791.5,612) scale(0.85,1)" x="-14.7" y="5.2" font-size="15" letter-spacing="0.95">C13</text>
<rect x="781" y="625.4" width="19.7" height="8.4" fill="#9a9a9a" rx="3"/>
<rect x="784" y="626.4" width="13.7" height="6.4" fill="#666" stroke="#111" stroke-width="1.6"/>
<text class="a" transform="translate(769.5,628) rotate(-90) scale(0.85,1)" x="-9.5" y="5.2" font-size="15" letter-spacing="-0.12">C7</text>
<rect x="771.7" y="640.2" width="31.5" height="13.6" fill="#9a9a9a" rx="4.5"/>
<rect x="776.7" y="641.7" width="22" height="10.6" fill="#9a9a9a" stroke="#111" stroke-width="1.8"/>
<rect x="785.4" y="638.7" width="4.6" height="17.1" fill="#fff" stroke="#111" stroke-width="1.6"/>
<rect x="782.7" y="645.5" width="10" height="3" fill="#333"/>
<text class="a" transform="translate(815.7,619) rotate(-90) scale(0.85,1)" x="-14.7" y="5.2" font-size="15" letter-spacing="0.95">C50</text>
<rect x="806.6" y="634.3" width="8.7" height="19.9" fill="#9a9a9a" rx="3"/>
<rect x="807.6" y="637.3" width="6.7" height="13.4" fill="#666" stroke="#111" stroke-width="1.6"/>
<text class="a" transform="translate(839,636.5) scale(0.85,1)" x="-14.7" y="5.2" font-size="15" letter-spacing="0.95">C20</text>
<rect x="823.5" y="646.7" width="31.5" height="13.6" fill="#9a9a9a" rx="4.5"/>
<rect x="828.5" y="648.2" width="22" height="10.6" fill="#9a9a9a" stroke="#111" stroke-width="1.8"/>
<rect x="837.2" y="645.2" width="4.6" height="17.1" fill="#fff" stroke="#111" stroke-width="1.6"/>
<rect x="834.5" y="652" width="10" height="3" fill="#333"/>
<text class="a" transform="translate(448.2,621.5) rotate(-90) scale(0.85,1)" x="-19.9" y="5.2" font-size="15" letter-spacing="1.30">C137</text>
<rect x="440" y="644.7" width="15.3" height="29.6" fill="#9a9a9a" rx="4.5"/>
<rect x="443" y="648.7" width="9.3" height="20.6" fill="#9a9a9a" stroke="#111" stroke-width="1.7"/>
<rect x="438" y="656.6" width="18.8" height="4.8" fill="#fff" stroke="#111" stroke-width="1.5"/>
<rect x="446.1" y="654" width="3" height="10" fill="#333"/>
<text class="a" transform="translate(485.5,605.5) rotate(-90) scale(0.85,1)" x="-19.9" y="5.2" font-size="15" letter-spacing="1.30">C136</text>
<rect x="464.7" y="629.6" width="41.7" height="63.8" fill="none" stroke="#111" stroke-width="1.8"/>
<rect x="467.7" y="632.1" width="35.7" height="24" fill="#9a9a9a"/>
<rect x="467.7" y="666.9" width="35.7" height="24" fill="#9a9a9a"/>
<rect x="467.9" y="639.2" width="35.3" height="43.4" fill="none" stroke="#111" stroke-width="1.8"/>
<text class="L" transform="translate(486,661.5) rotate(-90) scale(0.8,1)" x="-38.8" y="10.9" font-size="30" letter-spacing="-0.24">C136</text>
<text class="a" transform="translate(377,589) scale(0.85,1)" x="-9.5" y="5.2" font-size="15" letter-spacing="3.22">J6</text>
<line x1="310.8" y1="601" x2="429" y2="601" stroke="#111" stroke-width="2.4"/>
<line x1="310.8" y1="716" x2="429" y2="716" stroke="#111" stroke-width="2.4"/>
<line x1="425.6" y1="601" x2="425.6" y2="716" stroke="#111" stroke-width="1.2"/>
<line x1="428.4" y1="601" x2="428.4" y2="716" stroke="#111" stroke-width="1.2"/>
<rect x="399.2" y="622.5" width="24" height="24" fill="#9a9a9a"/>
<circle cx="411.2" cy="634.5" r="8.2" fill="#c6c6c6" stroke="none" stroke-width="0"/>
<rect x="410.4" y="633" width="1.6" height="3" fill="#222"/>
<circle cx="411.2" cy="682" r="12" fill="#9a9a9a" stroke="none" stroke-width="0"/>
<circle cx="411.2" cy="682" r="8.2" fill="#c6c6c6" stroke="none" stroke-width="0"/>
<rect x="410.4" y="680.5" width="1.6" height="3" fill="#222"/>
<text class="a" transform="translate(435.8,635.6) scale(0.85,1)" x="-4.2" y="5.2" font-size="15">1</text>
<text class="a" transform="translate(435.8,697.6) scale(0.85,1)" x="-4.2" y="5.2" font-size="15">2</text>
<text class="L" transform="translate(368.4,659) scale(0.8,1)" x="-30" y="15.7" font-size="43" letter-spacing="19.96">J6</text>
<line x1="310.8" y1="728" x2="429" y2="728" stroke="#111" stroke-width="2.4"/>
<path d="M425.6 728V889.5H310.8M428.4 728V892.2H310.8" fill="none" stroke="#111" stroke-width="1.2" />
<rect x="399" y="749.8" width="24" height="24" fill="#9a9a9a"/>
<circle cx="411" cy="761.8" r="8.2" fill="#c6c6c6" stroke="none" stroke-width="0"/>
<rect x="410.2" y="760.3" width="1.6" height="3" fill="#222"/>
<circle cx="410.8" cy="808.9" r="12" fill="#9a9a9a" stroke="none" stroke-width="0"/>
<circle cx="410.8" cy="808.9" r="8.2" fill="#c6c6c6" stroke="none" stroke-width="0"/>
<circle cx="410.8" cy="856" r="12" fill="#9a9a9a" stroke="none" stroke-width="0"/>
<circle cx="410.8" cy="856" r="8.2" fill="#c6c6c6" stroke="none" stroke-width="0"/>
<rect x="410" y="854.5" width="1.6" height="3" fill="#222"/>
<path d="M327.8 749L351 739.4V758.6Z M351 749H428" fill="none" stroke="#111" stroke-width="1.1" />
<text class="a" transform="translate(393,759.5) scale(0.85,1)" x="-42.9" y="5.2" font-size="15" letter-spacing="1.19">PCB EDGE</text>
<text class="L" transform="translate(368.4,808.5) rotate(-90) scale(0.8,1)" x="-48.8" y="16" font-size="44" letter-spacing="14.27">J16</text>
<text class="a" transform="translate(434.3,733) scale(0.85,1)" x="-4.2" y="5.2" font-size="15">1</text>
<text class="a" transform="translate(436.3,880) scale(0.85,1)" x="-4.2" y="5.2" font-size="15">3</text>
<text class="a" transform="translate(441.2,847.5) rotate(-90) scale(0.85,1)" x="-14.7" y="5.2" font-size="15" letter-spacing="2.61">J16</text>
<text class="a" transform="translate(446.5,731) rotate(-90) scale(0.85,1)" x="-19.9" y="5.2" font-size="15" letter-spacing="1.30">C129</text>
<rect x="439.6" y="754.4" width="15.3" height="29.6" fill="#9a9a9a" rx="4.5"/>
<rect x="442.6" y="758.4" width="9.3" height="20.6" fill="#9a9a9a" stroke="#111" stroke-width="1.7"/>
<rect x="437.6" y="766.3" width="18.8" height="4.8" fill="#fff" stroke="#111" stroke-width="1.5"/>
<rect x="445.7" y="763.7" width="3" height="10" fill="#333"/>
<rect x="439.6" y="788.2" width="15.3" height="29.6" fill="#9a9a9a" rx="4.5"/>
<rect x="442.6" y="792.2" width="9.3" height="20.6" fill="#9a9a9a" stroke="#111" stroke-width="1.7"/>
<rect x="437.6" y="800.1" width="18.8" height="4.8" fill="#fff" stroke="#111" stroke-width="1.5"/>
<rect x="445.7" y="797.5" width="3" height="10" fill="#333"/>
<text class="a" transform="translate(463.6,820.5) rotate(-90) scale(0.85,1)" x="-19.9" y="5.2" font-size="15" letter-spacing="1.30">C130</text>
<text class="a" transform="translate(488.2,754.5) scale(0.85,1)" x="-14.7" y="5.2" font-size="15" letter-spacing="0.95">U15</text>
<rect x="470" y="768.6" width="11" height="10" fill="#9a9a9a"/>
<rect x="470" y="792" width="11" height="10" fill="#9a9a9a"/>
<rect x="497" y="780.3" width="11" height="10" fill="#9a9a9a"/>
<rect x="479.7" y="765" width="18.2" height="40.7" fill="none" stroke="#111" stroke-width="1.5"/>
<text class="L" transform="translate(489,785.5) rotate(-90) scale(0.8,1)" x="-25" y="8" font-size="22" letter-spacing="2.95">U15</text>
<text class="a" transform="translate(464.3,773.6) scale(0.85,1)" x="-4.2" y="5.2" font-size="15">1</text>
<text class="a" transform="translate(479.3,815.3) scale(0.85,1)" x="-4.2" y="5.2" font-size="15">2</text>
<text class="a" transform="translate(524.6,758.5) rotate(-90) scale(0.85,1)" x="-14.7" y="5.2" font-size="15" letter-spacing="0.95">R18</text>
<rect x="533.5" y="753" width="13.4" height="30.4" fill="#9a9a9a" rx="4.5"/>
<rect x="535.5" y="758" width="9.4" height="20.4" fill="#9a9a9a" stroke="#111" stroke-width="1.8"/>
<rect x="536.5" y="764.1" width="7.4" height="8.2" fill="#e8e8e8"/>
<rect x="538.2" y="763.7" width="4" height="9" fill="#1a1a1a"/>
<rect x="533.5" y="787.3" width="13.4" height="30.4" fill="#9a9a9a" rx="4.5"/>
<rect x="535.5" y="792.3" width="9.4" height="20.4" fill="#9a9a9a" stroke="#111" stroke-width="1.8"/>
<rect x="536.5" y="798.4" width="7.4" height="8.2" fill="#e8e8e8"/>
<rect x="538.2" y="798" width="4" height="9" fill="#1a1a1a"/>
<text class="a" transform="translate(524.6,811.5) rotate(-90) scale(0.85,1)" x="-14.7" y="5.2" font-size="15" letter-spacing="0.95">R20</text>
<text class="a" transform="translate(572,682) scale(0.85,1)" x="-14.7" y="5.2" font-size="15" letter-spacing="0.95">TP6</text>
<text class="b" transform="translate(570,696.5) scale(1.15,1)" x="-23" y="5.2" font-size="15" letter-spacing="1.19">CANH</text>
<circle cx="574.4" cy="729" r="22.7" fill="none" stroke="#111" stroke-width="1.8"/>
<circle cx="574.4" cy="729" r="20.9" fill="none" stroke="#777" stroke-width="1.2"/>
<circle cx="574.4" cy="729" r="19.2" fill="none" stroke="#111" stroke-width="1.8"/>
<circle cx="574.4" cy="729" r="14.6" fill="#9a9a9a" stroke="none" stroke-width="0"/>
<circle cx="574.4" cy="729" r="10" fill="#c6c6c6" stroke="none" stroke-width="0"/>
<text class="L" transform="translate(574.4,729.5) scale(0.8,1)" x="-22.5" y="7.7" font-size="21" letter-spacing="3.07">TP6</text>
<text class="a" transform="translate(615,656.5) scale(0.85,1)" x="-19.9" y="5.2" font-size="15" letter-spacing="1.30">TP13</text>
<text class="b" transform="translate(617.6,674) scale(1.15,1)" x="-10.4" y="5.2" font-size="15" letter-spacing="2.52">V3</text>
<circle cx="648" cy="697.2" r="22.7" fill="none" stroke="#111" stroke-width="1.8"/>
<circle cx="648" cy="697.2" r="20.9" fill="none" stroke="#777" stroke-width="1.2"/>
<circle cx="648" cy="697.2" r="19.2" fill="none" stroke="#111" stroke-width="1.8"/>
<circle cx="648" cy="697.2" r="14.6" fill="#9a9a9a" stroke="none" stroke-width="0"/>
<circle cx="648" cy="697.2" r="10" fill="#c6c6c6" stroke="none" stroke-width="0"/>
<rect x="642.5" y="696" width="11" height="3.2" fill="#222"/>
<circle cx="574.2" cy="839.9" r="22.7" fill="none" stroke="#111" stroke-width="1.8"/>
<circle cx="574.2" cy="839.9" r="20.9" fill="none" stroke="#777" stroke-width="1.2"/>
<circle cx="574.2" cy="839.9" r="19.2" fill="none" stroke="#111" stroke-width="1.8"/>
<circle cx="574.2" cy="839.9" r="14.6" fill="#9a9a9a" stroke="none" stroke-width="0"/>
<circle cx="574.2" cy="839.9" r="10" fill="#c6c6c6" stroke="none" stroke-width="0"/>
<text class="L" transform="translate(574.2,840.4) scale(0.8,1)" x="-22.5" y="7.7" font-size="21" letter-spacing="3.07">TP3</text>
<text class="b" transform="translate(573.8,872.5) scale(1.15,1)" x="-23" y="5.2" font-size="15" letter-spacing="2.02">CANL</text>
<text class="a" transform="translate(573,888) scale(0.85,1)" x="-14.7" y="5.2" font-size="15" letter-spacing="0.95">TP3</text>
<circle cx="670.5" cy="839.9" r="22.7" fill="none" stroke="#111" stroke-width="1.8"/>
<circle cx="670.5" cy="839.9" r="20.9" fill="none" stroke="#777" stroke-width="1.2"/>
<circle cx="670.5" cy="839.9" r="19.2" fill="none" stroke="#111" stroke-width="1.8"/>
<circle cx="670.5" cy="839.9" r="14.6" fill="#9a9a9a" stroke="none" stroke-width="0"/>
<circle cx="670.5" cy="839.9" r="10" fill="#c6c6c6" stroke="none" stroke-width="0"/>
<text class="L" transform="translate(670.5,840.4) scale(0.8,1)" x="-22.5" y="7.7" font-size="21" letter-spacing="3.07">TP9</text>
<text class="b" transform="translate(670,872.5) scale(1.15,1)" x="-16.5" y="5.2" font-size="15" letter-spacing="-0.14">GND</text>
<text class="a" transform="translate(671.5,888) scale(0.85,1)" x="-14.7" y="5.2" font-size="15" letter-spacing="0.95">TP9</text>
<text class="a" transform="translate(637.5,754.5) scale(0.85,1)" x="-14.7" y="5.2" font-size="15" letter-spacing="0.95">R16</text>
<text class="a" transform="translate(636.3,815.5) scale(0.85,1)" x="-14.7" y="5.2" font-size="15" letter-spacing="0.95">R23</text>
<text class="a" transform="translate(602.7,780) scale(0.85,1)" x="-4.2" y="5.2" font-size="15">1</text>
<text class="a" transform="translate(671,783.5) rotate(-90) scale(0.85,1)" x="-14.7" y="5.2" font-size="15" letter-spacing="1.78">FL1</text>
<rect x="609" y="775.4" width="13.5" height="7.9" fill="#9a9a9a"/>
<rect x="648.8" y="775.4" width="14" height="7.9" fill="#9a9a9a"/>
<rect x="609" y="787.3" width="13.5" height="9.4" fill="#9a9a9a"/>
<rect x="648.8" y="787.3" width="14" height="9.4" fill="#9a9a9a"/>
<rect x="623" y="766.3" width="9.3" height="13.9" fill="#9a9a9a"/>
<rect x="639" y="766.3" width="9.3" height="13.9" fill="#9a9a9a"/>
<rect x="622.5" y="765.3" width="26.3" height="15.9" fill="none" stroke="#111" stroke-width="1.6"/>
<line x1="632.3" y1="765.3" x2="632.3" y2="781.2" stroke="#111" stroke-width="1.5"/>
<line x1="639" y1="765.3" x2="639" y2="781.2" stroke="#111" stroke-width="1.5"/>
<rect x="632.5" y="771.2" width="6.5" height="4" fill="#444"/>
<rect x="623" y="789.5" width="9.3" height="12" fill="#9a9a9a"/>
<rect x="639" y="789.5" width="9.3" height="12" fill="#9a9a9a"/>
<rect x="622.5" y="788.5" width="26.3" height="14" fill="none" stroke="#111" stroke-width="1.6"/>
<line x1="632.3" y1="788.5" x2="632.3" y2="802.5" stroke="#111" stroke-width="1.5"/>
<line x1="639" y1="788.5" x2="639" y2="802.5" stroke="#111" stroke-width="1.5"/>
<rect x="632.5" y="793.5" width="6.5" height="4" fill="#444"/>
<path d="M617.5 765H659.8V805.6H612.4V770.5Z" fill="none" stroke="#111" stroke-width="2" />
<rect x="613.9" y="767" width="44" height="35.5" fill="none" stroke="#111" stroke-width="1.2"/>
<path d="M612.4 770.5L617.5 765" fill="none" stroke="#111" stroke-width="3" />
<line x1="639.9" y1="777.5" x2="639.9" y2="793.4" stroke="#111" stroke-width="2.4"/>
<path d="M616 779V795M616 779H622M652 786H657.5V779M652 786V793H657" fill="none" stroke="#111" stroke-width="1.5" />
<text class="a" transform="translate(681.8,691.5) rotate(-90) scale(0.85,1)" x="-25.1" y="5.2" font-size="15" letter-spacing="0.02">CLDO3</text>
<rect x="691.5" y="666.1" width="19.6" height="37" fill="#9a9a9a" rx="5"/>
<rect x="693.5" y="670.6" width="16.6" height="28" fill="#fff" stroke="#111" stroke-width="1.5"/>
<rect x="694.2" y="671.3" width="15.2" height="5.7" fill="#9a9a9a"/>
<rect x="694.2" y="691.6" width="15.2" height="6.3" fill="#9a9a9a"/>
<line x1="693.5" y1="681.8" x2="710.1" y2="681.8" stroke="#111" stroke-width="1.5"/>
<line x1="693.5" y1="687.4" x2="710.1" y2="687.4" stroke="#111" stroke-width="1.5"/>
<rect x="699.5" y="678.6" width="4.6" height="12" fill="#1a1a1a"/>
<rect x="713.5" y="667" width="39" height="19" fill="#9a9a9a" rx="5"/>
<rect x="718" y="669" width="30" height="16" fill="#fff" stroke="#111" stroke-width="1.5"/>
<rect x="718.7" y="669.7" width="6.2" height="14.6" fill="#9a9a9a"/>
<rect x="740.5" y="669.7" width="6.8" height="14.6" fill="#9a9a9a"/>
<line x1="730.2" y1="669" x2="730.2" y2="685" stroke="#111" stroke-width="1.5"/>
<line x1="735.8" y1="669" x2="735.8" y2="685" stroke="#111" stroke-width="1.5"/>
<rect x="727" y="674.7" width="12" height="4.6" fill="#1a1a1a"/>
<text class="a" transform="translate(728.3,695) scale(0.85,1)" x="-14.7" y="5.2" font-size="15" letter-spacing="0.95">C27</text>
<rect x="691.4" y="708" width="29.6" height="11" fill="#9a9a9a" rx="4"/>
<rect x="697" y="709.5" width="19" height="8" fill="#222"/>
<text class="a" transform="translate(703.7,730) scale(0.85,1)" x="-19.9" y="5.2" font-size="15" letter-spacing="1.30">R229</text>
<g transform="translate(736,710.3) rotate(-32)">
<rect x="-9" y="-5" width="18" height="10" fill="#9a9a9a" rx="4"/>
<rect x="-6.5" y="-3.5" width="13" height="7" fill="#333"/>
</g>
<text class="a" transform="translate(752,711.5) rotate(-58) scale(0.85,1)" x="-14.7" y="5.2" font-size="15" letter-spacing="0.95">C30</text>
<text class="a" transform="translate(730.7,735.5) rotate(-90) scale(0.85,1)" x="-14.7" y="5.2" font-size="15" letter-spacing="0.95">C24</text>
<rect x="723.4" y="751.7" width="15.3" height="29.6" fill="#9a9a9a" rx="4.5"/>
<rect x="726.4" y="755.7" width="9.3" height="20.6" fill="#9a9a9a" stroke="#111" stroke-width="1.7"/>
<rect x="721.4" y="763.6" width="18.8" height="4.8" fill="#fff" stroke="#111" stroke-width="1.5"/>
<rect x="729.5" y="761" width="3" height="10" fill="#333"/>
<text class="a" transform="translate(730.8,799.5) rotate(-90) scale(0.85,1)" x="-14.7" y="5.2" font-size="15" letter-spacing="0.95">C22</text>
<rect x="739.9" y="786" width="15.3" height="29.6" fill="#9a9a9a" rx="4.5"/>
<rect x="742.9" y="790" width="9.3" height="20.6" fill="#9a9a9a" stroke="#111" stroke-width="1.7"/>
<rect x="737.9" y="797.9" width="18.8" height="4.8" fill="#fff" stroke="#111" stroke-width="1.5"/>
<rect x="746" y="795.3" width="3" height="10" fill="#333"/>
<rect x="741.6" y="744.8" width="19.6" height="37" fill="#9a9a9a" rx="5"/>
<rect x="743.6" y="749.3" width="16.6" height="28" fill="#fff" stroke="#111" stroke-width="1.5"/>
<rect x="744.3" y="750" width="15.2" height="5.7" fill="#9a9a9a"/>
<rect x="744.3" y="770.3" width="15.2" height="6.3" fill="#9a9a9a"/>
<line x1="743.6" y1="760.5" x2="760.2" y2="760.5" stroke="#111" stroke-width="1.5"/>
<line x1="743.6" y1="766.1" x2="760.2" y2="766.1" stroke="#111" stroke-width="1.5"/>
<rect x="749.6" y="757.3" width="4.6" height="12" fill="#1a1a1a"/>
<text class="a" transform="translate(770.8,772.5) rotate(-90) scale(0.85,1)" x="-14.7" y="5.2" font-size="15" letter-spacing="0.95">R10</text>
<rect x="778" y="683" width="46" height="46.6" fill="#9a9a9a"/>
<rect x="779" y="670.5" width="3" height="8.5" fill="#b0b0b0"/>
<rect x="779" y="734" width="3" height="8.5" fill="#b0b0b0"/>
<rect x="765" y="684" width="8.5" height="3" fill="#b0b0b0"/>
<rect x="828.8" y="684" width="8.4" height="3" fill="#b0b0b0"/>
<rect x="784.9" y="670.5" width="3" height="8.5" fill="#b0b0b0"/>
<rect x="784.9" y="734" width="3" height="8.5" fill="#b0b0b0"/>
<rect x="765" y="689.9" width="8.5" height="3" fill="#b0b0b0"/>
<rect x="828.8" y="689.9" width="8.4" height="3" fill="#b0b0b0"/>
<rect x="790.8" y="670.5" width="3" height="8.5" fill="#b0b0b0"/>
<rect x="790.8" y="734" width="3" height="8.5" fill="#b0b0b0"/>
<rect x="765" y="695.8" width="8.5" height="3" fill="#b0b0b0"/>
<rect x="828.8" y="695.8" width="8.4" height="3" fill="#b0b0b0"/>
<rect x="796.7" y="670.5" width="3" height="8.5" fill="#b0b0b0"/>
<rect x="796.7" y="734" width="3" height="8.5" fill="#b0b0b0"/>
<rect x="765" y="701.7" width="8.5" height="3" fill="#b0b0b0"/>
<rect x="828.8" y="701.7" width="8.4" height="3" fill="#b0b0b0"/>
<rect x="802.6" y="670.5" width="3" height="8.5" fill="#b0b0b0"/>
<rect x="802.6" y="734" width="3" height="8.5" fill="#b0b0b0"/>
<rect x="765" y="707.6" width="8.5" height="3" fill="#b0b0b0"/>
<rect x="828.8" y="707.6" width="8.4" height="3" fill="#b0b0b0"/>
<rect x="808.5" y="670.5" width="3" height="8.5" fill="#b0b0b0"/>
<rect x="808.5" y="734" width="3" height="8.5" fill="#b0b0b0"/>
<rect x="765" y="713.5" width="8.5" height="3" fill="#b0b0b0"/>
<rect x="828.8" y="713.5" width="8.4" height="3" fill="#b0b0b0"/>
<rect x="814.4" y="670.5" width="3" height="8.5" fill="#b0b0b0"/>
<rect x="814.4" y="734" width="3" height="8.5" fill="#b0b0b0"/>
<rect x="765" y="719.4" width="8.5" height="3" fill="#b0b0b0"/>
<rect x="828.8" y="719.4" width="8.4" height="3" fill="#b0b0b0"/>
<rect x="820.3" y="670.5" width="3" height="8.5" fill="#b0b0b0"/>
<rect x="820.3" y="734" width="3" height="8.5" fill="#b0b0b0"/>
<rect x="765" y="725.3" width="8.5" height="3" fill="#b0b0b0"/>
<rect x="828.8" y="725.3" width="8.4" height="3" fill="#b0b0b0"/>
<rect x="769.2" y="674.7" width="63.8" height="63.7" fill="none" stroke="#111" stroke-width="1.6"/>
<path d="M766.3 680V672.6H774M827 672.6H835.5V680M835.5 733V740.8H827M774 740.8H766.3V733" fill="none" stroke="#111" stroke-width="1.3" />
<circle cx="778" cy="676.5" r="1.5" fill="#222" stroke="none" stroke-width="0"/>
<circle cx="823" cy="676.5" r="1.5" fill="#222" stroke="none" stroke-width="0"/>
<circle cx="831" cy="684" r="1.5" fill="#222" stroke="none" stroke-width="0"/>
<circle cx="831" cy="728" r="1.5" fill="#222" stroke="none" stroke-width="0"/>
<circle cx="823" cy="736.5" r="1.5" fill="#222" stroke="none" stroke-width="0"/>
<circle cx="778" cy="736.5" r="1.5" fill="#222" stroke="none" stroke-width="0"/>
<circle cx="771.5" cy="728" r="1.5" fill="#222" stroke="none" stroke-width="0"/>
<circle cx="771.5" cy="684" r="1.5" fill="#222" stroke="none" stroke-width="0"/>
<text class="L" transform="translate(801,706.5) scale(0.72,1)" x="-44.4" y="12.8" font-size="35" letter-spacing="9.37">U16</text>
<text class="a" transform="translate(774.8,662) scale(0.85,1)" x="-9.5" y="5.2" font-size="15" letter-spacing="2.37">32</text>
<text class="a" transform="translate(803.7,662) scale(0.85,1)" x="-14.7" y="5.2" font-size="15" letter-spacing="0.95">U16</text>
<text class="a" transform="translate(846.5,672.5) scale(0.85,1)" x="-9.5" y="5.2" font-size="15" letter-spacing="2.37">25</text>
<text class="a" transform="translate(757.7,680) scale(0.85,1)" x="-4.2" y="5.2" font-size="15">1</text>
<text class="a" transform="translate(759.3,732.5) scale(0.85,1)" x="-4.2" y="5.2" font-size="15">8</text>
<text class="a" transform="translate(772.4,749.5) scale(0.85,1)" x="-4.2" y="5.2" font-size="15">9</text>
<text class="a" transform="translate(847.8,740.5) scale(0.85,1)" x="-9.5" y="5.2" font-size="15" letter-spacing="2.37">17</text>
<text class="a" transform="translate(837.4,757) scale(0.85,1)" x="-9.5" y="5.2" font-size="15" letter-spacing="2.37">16</text>
<text class="a" transform="translate(805.8,751.5) scale(0.85,1)" x="-14.7" y="5.2" font-size="15" letter-spacing="0.95">C48</text>
<rect x="789.8" y="761" width="31.5" height="13.6" fill="#9a9a9a" rx="4.5"/>
<rect x="794.8" y="762.5" width="22" height="10.6" fill="#9a9a9a" stroke="#111" stroke-width="1.8"/>
<rect x="803.5" y="759.5" width="4.6" height="17.1" fill="#fff" stroke="#111" stroke-width="1.6"/>
<rect x="800.8" y="766.3" width="10" height="3" fill="#333"/>
<text class="a" transform="translate(868.4,754.5) scale(0.85,1)" x="-14.7" y="5.2" font-size="15" letter-spacing="0.95">C31</text>
<rect x="855.6" y="763.6" width="19.7" height="8.4" fill="#9a9a9a" rx="3"/>
<rect x="858.6" y="764.6" width="13.7" height="6.4" fill="#666" stroke="#111" stroke-width="1.6"/>
<rect x="830.4" y="779.1" width="19.7" height="8.4" fill="#9a9a9a" rx="3"/>
<rect x="833.4" y="780.1" width="13.7" height="6.4" fill="#666" stroke="#111" stroke-width="1.6"/>
<text class="a" transform="translate(835,798.6) scale(0.85,1)" x="-14.7" y="5.2" font-size="15" letter-spacing="0.95">C35</text>
<rect x="853.8" y="776.5" width="30.5" height="13.6" fill="#9a9a9a" rx="4.5"/>
<rect x="858.8" y="778.5" width="20.5" height="9.6" fill="#9a9a9a" stroke="#111" stroke-width="1.8"/>
<rect x="864.9" y="779.5" width="8.2" height="7.6" fill="#e8e8e8"/>
<rect x="864.5" y="781.3" width="9" height="4" fill="#1a1a1a"/>
<text class="a" transform="translate(869.4,798.6) scale(0.85,1)" x="-14.7" y="5.2" font-size="15" letter-spacing="0.95">R30</text>
<text class="a" transform="translate(846.7,712) rotate(-90) scale(0.85,1)" x="-19.9" y="5.2" font-size="15" letter-spacing="1.30">C135</text>
<rect x="853.2" y="682.5" width="22" height="55" fill="#9a9a9a" rx="5"/>
<rect x="855.2" y="687" width="19" height="46" fill="#fff" stroke="#111" stroke-width="1.5"/>
<rect x="855.9" y="687.7" width="17.6" height="9.9" fill="#9a9a9a"/>
<rect x="855.9" y="721.5" width="17.6" height="10.8" fill="#9a9a9a"/>
<line x1="855.2" y1="707.2" x2="874.2" y2="707.2" stroke="#111" stroke-width="1.5"/>
<line x1="855.2" y1="712.8" x2="874.2" y2="712.8" stroke="#111" stroke-width="1.5"/>
<rect x="862.4" y="704" width="4.6" height="12" fill="#1a1a1a"/>
<text class="a" transform="translate(879.5,731.5) scale(0.85,1)" x="-4.2" y="5.2" font-size="15">1</text>
<rect x="859.6" y="587.3" width="38.4" height="19.3" fill="#9a9a9a"/>
<rect x="859.6" y="618.3" width="38.4" height="20.4" fill="#9a9a9a"/>
<path d="M866 591.6H890.5L898 598V627L890.5 633.3H866L858.5 627V598Z" fill="none" stroke="#111" stroke-width="1.3" />
<line x1="855.3" y1="590" x2="855.3" y2="636" stroke="#111" stroke-width="1.1"/>
<line x1="900.9" y1="590" x2="900.9" y2="636" stroke="#111" stroke-width="1.6"/>
<path d="M869 604H886M886 600V608M869 604l5 -2.5M870 627H886V618" fill="none" stroke="#111" stroke-width="1.1" />
<text class="a" transform="translate(913,607.5) rotate(-90) scale(0.85,1)" x="-9.5" y="5.2" font-size="15" letter-spacing="2.37">L1</text>
<text class="a" transform="translate(873.5,580) rotate(-90) scale(0.85,1)" x="-4.2" y="5.2" font-size="15">1</text>
<circle cx="891.2" cy="578.8" r="3" fill="none" stroke="#111" stroke-width="1.2"/>
<text class="a" transform="translate(914,633) scale(0.85,1)" x="-9.5" y="5.2" font-size="15" letter-spacing="-0.12">C2</text>
<rect x="862.8" y="640.8" width="62.7" height="40.2" fill="none" stroke="#111" stroke-width="1.2"/>
<rect x="864.5" y="643" width="23.5" height="36" fill="#9a9a9a"/>
<rect x="900" y="643" width="22" height="36" fill="#9a9a9a"/>
<rect x="871.3" y="643.5" width="44.3" height="35" fill="none" stroke="#111" stroke-width="1.3"/>
<text class="L" transform="translate(893.5,661) scale(0.8,1)" x="-24.4" y="10.9" font-size="30" letter-spacing="8.71">C2</text>
<text class="a" transform="translate(936,531) scale(0.85,1)" x="-19.9" y="5.2" font-size="15" letter-spacing="1.30">TP34</text>
<circle cx="934.4" cy="550.3" r="11" fill="#9a9a9a" stroke="none" stroke-width="0"/>
<rect x="929" y="549" width="11" height="3.5" fill="#444"/>
<text class="a" transform="translate(990,531) scale(0.85,1)" x="-19.9" y="5.2" font-size="15" letter-spacing="1.30">TP33</text>
<circle cx="988.3" cy="550.3" r="11" fill="#9a9a9a" stroke="none" stroke-width="0"/>
<rect x="983" y="549" width="11" height="3.5" fill="#444"/>
<text class="a" transform="translate(921,575.5) scale(0.85,1)" x="-14.7" y="5.2" font-size="15" letter-spacing="1.78">SJ2</text>
<rect x="937.6" y="565.3" width="39.6" height="20.3" fill="#fff" stroke="#111" stroke-width="1.3" rx="10"/>
<rect x="940.5" y="568" width="34" height="15" fill="#9a9a9a" rx="7"/>
<rect x="947" y="571" width="20.5" height="9.5" fill="#555" stroke="#111" stroke-width="1.3"/>
<rect x="939.6" y="589.3" width="36.8" height="19.8" fill="#9a9a9a" rx="5"/>
<rect x="944.1" y="591.3" width="27.8" height="16.8" fill="#fff" stroke="#111" stroke-width="1.5"/>
<rect x="944.8" y="592" width="5.7" height="15.4" fill="#9a9a9a"/>
<rect x="964.9" y="592" width="6.2" height="15.4" fill="#9a9a9a"/>
<line x1="955.2" y1="591.3" x2="955.2" y2="608.1" stroke="#111" stroke-width="1.5"/>
<line x1="960.8" y1="591.3" x2="960.8" y2="608.1" stroke="#111" stroke-width="1.5"/>
<rect x="952" y="597.4" width="12" height="4.6" fill="#1a1a1a"/>
<rect x="939.6" y="613.6" width="36.8" height="19.8" fill="#9a9a9a" rx="5"/>
<rect x="944.1" y="615.6" width="27.8" height="16.8" fill="#fff" stroke="#111" stroke-width="1.5"/>
<rect x="944.8" y="616.3" width="5.7" height="15.4" fill="#9a9a9a"/>
<rect x="964.9" y="616.3" width="6.2" height="15.4" fill="#9a9a9a"/>
<line x1="955.2" y1="615.6" x2="955.2" y2="632.4" stroke="#111" stroke-width="1.5"/>
<line x1="960.8" y1="615.6" x2="960.8" y2="632.4" stroke="#111" stroke-width="1.5"/>
<rect x="952" y="621.7" width="12" height="4.6" fill="#1a1a1a"/>
<rect x="939.6" y="637.9" width="36.8" height="19.8" fill="#9a9a9a" rx="5"/>
<rect x="944.1" y="639.9" width="27.8" height="16.8" fill="#fff" stroke="#111" stroke-width="1.5"/>
<rect x="944.8" y="640.6" width="5.7" height="15.4" fill="#9a9a9a"/>
<rect x="964.9" y="640.6" width="6.2" height="15.4" fill="#9a9a9a"/>
<line x1="955.2" y1="639.9" x2="955.2" y2="656.7" stroke="#111" stroke-width="1.5"/>
<line x1="960.8" y1="639.9" x2="960.8" y2="656.7" stroke="#111" stroke-width="1.5"/>
<rect x="952" y="646" width="12" height="4.6" fill="#1a1a1a"/>
<rect x="939.6" y="661.4" width="36.8" height="19.8" fill="#9a9a9a" rx="5"/>
<rect x="944.1" y="663.4" width="27.8" height="16.8" fill="#fff" stroke="#111" stroke-width="1.5"/>
<rect x="944.8" y="664.1" width="5.7" height="15.4" fill="#9a9a9a"/>
<rect x="964.9" y="664.1" width="6.2" height="15.4" fill="#9a9a9a"/>
<line x1="955.2" y1="663.4" x2="955.2" y2="680.2" stroke="#111" stroke-width="1.5"/>
<line x1="960.8" y1="663.4" x2="960.8" y2="680.2" stroke="#111" stroke-width="1.5"/>
<rect x="952" y="669.5" width="12" height="4.6" fill="#1a1a1a"/>
<text class="a" transform="translate(997.5,599) scale(0.85,1)" x="-19.9" y="5.2" font-size="15" letter-spacing="1.30">C144</text>
<text class="a" transform="translate(997.5,613.5) scale(0.85,1)" x="-19.9" y="5.2" font-size="15" letter-spacing="1.30">C143</text>
<text class="a" transform="translate(997.5,628) scale(0.85,1)" x="-19.9" y="5.2" font-size="15" letter-spacing="1.30">C142</text>
<text class="a" transform="translate(997.5,642.5) scale(0.85,1)" x="-19.9" y="5.2" font-size="15" letter-spacing="1.30">C146</text>
<circle cx="1010.4" cy="671.4" r="22.7" fill="none" stroke="#111" stroke-width="1.8"/>
<circle cx="1010.4" cy="671.4" r="20.9" fill="none" stroke="#777" stroke-width="1.2"/>
<circle cx="1010.4" cy="671.4" r="19.2" fill="none" stroke="#111" stroke-width="1.8"/>
<circle cx="1010.4" cy="671.4" r="14.6" fill="#9a9a9a" stroke="none" stroke-width="0"/>
<circle cx="1010.4" cy="671.4" r="10" fill="#c6c6c6" stroke="none" stroke-width="0"/>
<text class="L" transform="translate(1010.4,671.9) scale(0.8,1)" x="-22.5" y="7.7" font-size="21" letter-spacing="3.07">TP4</text>
<text class="b" transform="translate(1047.8,662.5) scale(1.15,1)" x="-9.6" y="5.2" font-size="15" letter-spacing="0.78">V1</text>
<text class="a" transform="translate(1048.9,682.5) scale(0.85,1)" x="-14.7" y="5.2" font-size="15" letter-spacing="0.95">TP4</text>
<rect x="935.8" y="686.2" width="19.7" height="8.4" fill="#9a9a9a" rx="3"/>
<rect x="938.8" y="687.2" width="13.7" height="6.4" fill="#666" stroke="#111" stroke-width="1.6"/>
<text class="a" transform="translate(991,700) scale(0.85,1)" x="-9.5" y="5.2" font-size="15" letter-spacing="-0.12">C9</text>
<text class="a" transform="translate(1107.7,607.5) scale(0.85,1)" x="-19.9" y="5.2" font-size="15" letter-spacing="1.30">TP25</text>
<text class="b" transform="translate(1107.7,623) scale(1.15,1)" x="-16.5" y="5.2" font-size="15" letter-spacing="-0.14">GND</text>
<circle cx="1108" cy="656.4" r="22.7" fill="none" stroke="#111" stroke-width="1.8"/>
<circle cx="1108" cy="656.4" r="20.9" fill="none" stroke="#777" stroke-width="1.2"/>
<circle cx="1108" cy="656.4" r="19.2" fill="none" stroke="#111" stroke-width="1.8"/>
<circle cx="1108" cy="656.4" r="14.6" fill="#9a9a9a" stroke="none" stroke-width="0"/>
<circle cx="1108" cy="656.4" r="10" fill="#c6c6c6" stroke="none" stroke-width="0"/>
<rect x="1102.5" y="655.2" width="11" height="3.2" fill="#222"/>
<text class="L" transform="translate(1153.8,639.5) rotate(-90) scale(0.75,1)" x="-212" y="11.3" font-size="31" letter-spacing="6.81">KITFS2400FRDMEVM</text>
<rect x="888" y="718" width="34.9" height="27.7" fill="#9a9a9a"/>
<rect x="932.3" y="718" width="33.4" height="27.7" fill="#9a9a9a"/>
<rect x="902" y="713" width="20.9" height="38.7" fill="#8e8e8e"/>
<rect x="932.3" y="713" width="21.7" height="38.7" fill="#8e8e8e"/>
<path d="M890 714.7V697H965.7V714.7M890 749V767.6H965.7V749" fill="none" stroke="#111" stroke-width="1.3" />
<rect x="893.3" y="699.7" width="69.2" height="66.3" fill="none" stroke="#111" stroke-width="2"/>
<rect x="909.5" y="718" width="13" height="27.8" fill="#5c5c5c"/>
<rect x="932.3" y="718" width="12.3" height="27.8" fill="#5c5c5c"/>
<path d="M915 711H943L948.8 717V746.5L943 752.7H915L909.2 746.5V717Z" fill="none" stroke="#111" stroke-width="1.6" />
<line x1="913" y1="711.5" x2="945" y2="711.5" stroke="#111" stroke-width="2.4"/>
<rect x="905.3" y="717" width="39.3" height="30" fill="none" stroke="#111" stroke-width="1.6"/>
<text class="L" transform="translate(928,731.5) scale(0.8,1)" x="-19.4" y="10.2" font-size="28" letter-spacing="5.34">L7</text>
<text class="a" transform="translate(978.3,717.5) scale(0.85,1)" x="-9.5" y="5.2" font-size="15" letter-spacing="2.37">L3</text>
<text class="a" transform="translate(969.5,735) scale(0.85,1)" x="-4.2" y="5.2" font-size="15">1</text>
<text class="a" transform="translate(989,735) scale(0.85,1)" x="-9.5" y="5.2" font-size="15" letter-spacing="2.37">L7</text>
<text class="a" transform="translate(967.6,746) scale(0.85,1)" x="-8.2" y="4.5" font-size="13" letter-spacing="2.01">o1</text>
<text class="a" transform="translate(978,764) scale(0.85,1)" x="-9.5" y="5.2" font-size="15" letter-spacing="2.37">L2</text>
<text class="a" transform="translate(914.7,777) scale(0.85,1)" x="-19.9" y="5.2" font-size="15" letter-spacing="1.30">R228</text>
<rect x="935.8" y="769.2" width="30.5" height="13.6" fill="#9a9a9a" rx="4.5"/>
<rect x="940.8" y="771.2" width="20.5" height="9.6" fill="#9a9a9a" stroke="#111" stroke-width="1.8"/>
<rect x="946.9" y="772.2" width="8.2" height="7.6" fill="#e8e8e8"/>
<rect x="946.5" y="774" width="9" height="4" fill="#1a1a1a"/>
<g transform="translate(1067,733.9) rotate(0)" fill="none" stroke="#111" stroke-width="1.5">
<path d="M-12 0H12 M-6 -6V6 L5.4 0Z M5.4 -6V6"/>
</g>
<text class="a" transform="translate(1039.9,755) scale(0.85,1)" x="-14.7" y="5.2" font-size="15" letter-spacing="0.95">D12</text>
<rect x="1057" y="749" width="20" height="13" fill="#9a9a9a" rx="2"/>
<rect x="1059" y="751" width="16" height="9" fill="#555" stroke="#111" stroke-width="1.3"/>
<text class="a" transform="translate(1107.7,735) scale(0.85,1)" x="-14.7" y="5.2" font-size="15" letter-spacing="0.95">C61</text>
<rect x="1089.5" y="744.3" width="37" height="19.6" fill="#9a9a9a" rx="5"/>
<rect x="1094" y="746.3" width="28" height="16.6" fill="#fff" stroke="#111" stroke-width="1.5"/>
<rect x="1094.7" y="747" width="5.7" height="15.2" fill="#9a9a9a"/>
<rect x="1115" y="747" width="6.3" height="15.2" fill="#9a9a9a"/>
<line x1="1105.2" y1="746.3" x2="1105.2" y2="762.9" stroke="#111" stroke-width="1.5"/>
<line x1="1110.8" y1="746.3" x2="1110.8" y2="762.9" stroke="#111" stroke-width="1.5"/>
<rect x="1102" y="752.3" width="12" height="4.6" fill="#1a1a1a"/>
<rect x="1058.6" y="766.8" width="63.1" height="58.4" fill="none" stroke="#111" stroke-width="1.4"/>
<rect x="1060.7" y="781.4" width="18.2" height="29.9" fill="#9a9a9a"/>
<rect x="1098.2" y="781.4" width="22.8" height="29.9" fill="#9a9a9a"/>
<path d="M1058.6 779L1069 766.8M1110 766.8L1121.7 779" fill="none" stroke="#111" stroke-width="1.1" />
<path d="M1059.5 768V800M1120.5 768V776M1120.5 812V824.5H1059.5V810" fill="none" stroke="#111" stroke-width="2" />
<text class="L" transform="translate(1090,796) scale(0.8,1)" x="-32.5" y="14.9" font-size="41" letter-spacing="16.07">L4</text>
<text class="a" transform="translate(1128,783.5) scale(0.85,1)" x="-4.2" y="5.2" font-size="15">1</text>
<text class="a" transform="translate(1090.7,835.5) scale(0.85,1)" x="-9.5" y="5.2" font-size="15" letter-spacing="2.37">L4</text>
<rect x="1109.2" y="828.1" width="30.5" height="13.6" fill="#9a9a9a" rx="4.5"/>
<rect x="1114.2" y="830.1" width="20.5" height="9.6" fill="#9a9a9a" stroke="#111" stroke-width="1.8"/>
<rect x="1120.4" y="831.1" width="8.2" height="7.6" fill="#e8e8e8"/>
<rect x="1120" y="832.9" width="9" height="4" fill="#1a1a1a"/>
<text class="a" transform="translate(1122.8,851.5) scale(0.85,1)" x="-14.7" y="5.2" font-size="15" letter-spacing="0.95">R75</text>
<text class="b" transform="translate(1011.6,793) scale(1.15,1)" x="-34.3" y="5.3" font-size="15.5" letter-spacing="0.99">CANTXD</text>
<circle cx="955.3" cy="816" r="22.7" fill="none" stroke="#111" stroke-width="1.8"/>
<circle cx="955.3" cy="816" r="20.9" fill="none" stroke="#777" stroke-width="1.2"/>
<circle cx="955.3" cy="816" r="19.2" fill="none" stroke="#111" stroke-width="1.8"/>
<circle cx="955.3" cy="816" r="14.6" fill="#9a9a9a" stroke="none" stroke-width="0"/>
<circle cx="955.3" cy="816" r="10" fill="#c6c6c6" stroke="none" stroke-width="0"/>
<rect x="949.8" y="814.8" width="11" height="3.2" fill="#222"/>
<text class="a" transform="translate(999.8,811.5) scale(0.85,1)" x="-19.9" y="5.2" font-size="15" letter-spacing="1.30">TP23</text>
<text class="a" transform="translate(911.4,816) scale(0.85,1)" x="-19.9" y="5.2" font-size="15" letter-spacing="1.30">TP26</text>
<text class="b" transform="translate(852.3,828) scale(1.15,1)" x="-34.3" y="5.3" font-size="15.5" letter-spacing="0.65">CANRXD</text>
<circle cx="912.2" cy="847.5" r="22.7" fill="none" stroke="#111" stroke-width="1.8"/>
<circle cx="912.2" cy="847.5" r="20.9" fill="none" stroke="#777" stroke-width="1.2"/>
<circle cx="912.2" cy="847.5" r="19.2" fill="none" stroke="#111" stroke-width="1.8"/>
<circle cx="912.2" cy="847.5" r="14.6" fill="#9a9a9a" stroke="none" stroke-width="0"/>
<circle cx="912.2" cy="847.5" r="10" fill="#c6c6c6" stroke="none" stroke-width="0"/>
<rect x="906.7" y="846.3" width="11" height="3.2" fill="#222"/>
<text class="a" transform="translate(995.5,836) scale(0.85,1)" x="-14.7" y="5.2" font-size="15" letter-spacing="2.61">J37</text>
<rect x="970.9" y="845" width="37.4" height="106" fill="none" stroke="#111" stroke-width="1.2"/>
<path d="M974 866V847.5H1005.5V866M974 930V948.5H1005.5V930" fill="none" stroke="#111" stroke-width="1.8" />
<circle cx="989.5" cy="864.8" r="10" fill="#9a9a9a" stroke="none" stroke-width="0"/>
<circle cx="989.5" cy="864.8" r="6.8" fill="#c6c6c6" stroke="none" stroke-width="0"/>
<circle cx="989.5" cy="897" r="10" fill="#9a9a9a" stroke="none" stroke-width="0"/>
<circle cx="989.5" cy="897" r="6.8" fill="#c6c6c6" stroke="none" stroke-width="0"/>
<rect x="979" y="919.1" width="21" height="21" fill="#9a9a9a"/>
<circle cx="989.5" cy="929.6" r="7.1" fill="#c6c6c6" stroke="none" stroke-width="0"/>
<rect x="988.7" y="928.1" width="1.6" height="3" fill="#222"/>
<text class="L" transform="translate(990,897) rotate(-90) scale(0.8,1)" x="-26.9" y="9.5" font-size="26" letter-spacing="6.50">J37</text>
<text class="a" transform="translate(1016.9,866) scale(0.85,1)" x="-4.2" y="5.2" font-size="15">3</text>
<text class="a" transform="translate(1016.9,930) scale(0.85,1)" x="-4.2" y="5.2" font-size="15">1</text>
<text class="a" transform="translate(945.2,865) scale(0.85,1)" x="-14.7" y="5.2" font-size="15" letter-spacing="2.61">J33</text>
<rect x="913.6" y="876.6" width="42.8" height="74.4" fill="none" stroke="#111" stroke-width="1.2"/>
<rect x="917" y="880" width="36" height="67.5" fill="none" stroke="#111" stroke-width="1.6"/>
<circle cx="935.2" cy="896.9" r="10" fill="#9a9a9a" stroke="none" stroke-width="0"/>
<circle cx="935.2" cy="896.9" r="6.8" fill="#c6c6c6" stroke="none" stroke-width="0"/>
<rect x="925.2" y="921" width="20" height="20" fill="#9a9a9a"/>
<circle cx="935.2" cy="931" r="6.8" fill="#c6c6c6" stroke="none" stroke-width="0"/>
<rect x="934.4" y="929.5" width="1.6" height="3" fill="#222"/>
<text class="L" transform="translate(935.7,913) rotate(-90) scale(0.8,1)" x="-31.9" y="9.5" font-size="26" letter-spacing="11.50">J33</text>
<text class="a" transform="translate(960.6,930) scale(0.85,1)" x="-4.2" y="5.2" font-size="15">1</text>
<text class="a" transform="translate(706.4,907) rotate(-90) scale(0.85,1)" x="-14.7" y="5.2" font-size="15" letter-spacing="0.95">U17</text>
<text class="a" transform="translate(722.2,907) rotate(-90) scale(0.85,1)" x="-14.7" y="5.2" font-size="15" letter-spacing="0.95">U21</text>
<text class="a" transform="translate(884.8,907) rotate(-90) scale(0.85,1)" x="-14.7" y="5.2" font-size="15" letter-spacing="0.95">U18</text>
<text class="a" transform="translate(901.5,907) rotate(-90) scale(0.85,1)" x="-14.7" y="5.2" font-size="15" letter-spacing="0.95">U22</text>
<rect x="738.2" y="880.2" width="4.6" height="17.1" fill="#9a9a9a"/>
<rect x="738.2" y="918.5" width="4.6" height="16.2" fill="#9a9a9a"/>
<rect x="743.9" y="880.2" width="4.6" height="17.1" fill="#9a9a9a"/>
<rect x="743.9" y="918.5" width="4.6" height="16.2" fill="#9a9a9a"/>
<rect x="749.6" y="880.2" width="4.6" height="17.1" fill="#9a9a9a"/>
<rect x="749.6" y="918.5" width="4.6" height="16.2" fill="#9a9a9a"/>
<rect x="755.3" y="880.2" width="4.6" height="17.1" fill="#9a9a9a"/>
<rect x="755.3" y="918.5" width="4.6" height="16.2" fill="#9a9a9a"/>
<rect x="735.2" y="892.6" width="27.7" height="31.1" fill="none" stroke="#111" stroke-width="1.8"/>
<line x1="732.9" y1="893.5" x2="732.9" y2="923.5" stroke="#111" stroke-width="1.2"/>
<text class="L" transform="translate(749.5,908) rotate(-90) scale(0.8,1)" x="-27.5" y="8.4" font-size="23" letter-spacing="4.45">U17</text>
<rect x="772.2" y="880.2" width="4.6" height="17.1" fill="#9a9a9a"/>
<rect x="772.2" y="918.5" width="4.6" height="16.2" fill="#9a9a9a"/>
<rect x="777.9" y="880.2" width="4.6" height="17.1" fill="#9a9a9a"/>
<rect x="777.9" y="918.5" width="4.6" height="16.2" fill="#9a9a9a"/>
<rect x="783.6" y="880.2" width="4.6" height="17.1" fill="#9a9a9a"/>
<rect x="783.6" y="918.5" width="4.6" height="16.2" fill="#9a9a9a"/>
<rect x="789.3" y="880.2" width="4.6" height="17.1" fill="#9a9a9a"/>
<rect x="789.3" y="918.5" width="4.6" height="16.2" fill="#9a9a9a"/>
<rect x="769.2" y="892.6" width="27.7" height="31.1" fill="none" stroke="#111" stroke-width="1.8"/>
<line x1="766.9" y1="893.5" x2="766.9" y2="923.5" stroke="#111" stroke-width="1.2"/>
<text class="L" transform="translate(783.5,908) rotate(-90) scale(0.8,1)" x="-27.5" y="8.4" font-size="23" letter-spacing="4.45">U21</text>
<rect x="808.6" y="880.2" width="4.6" height="17.1" fill="#9a9a9a"/>
<rect x="808.6" y="918.5" width="4.6" height="16.2" fill="#9a9a9a"/>
<rect x="814.6" y="880.2" width="4.6" height="17.1" fill="#9a9a9a"/>
<rect x="814.6" y="918.5" width="4.6" height="16.2" fill="#9a9a9a"/>
<rect x="820.6" y="880.2" width="4.6" height="17.1" fill="#9a9a9a"/>
<rect x="820.6" y="918.5" width="4.6" height="16.2" fill="#9a9a9a"/>
<rect x="826.6" y="880.2" width="4.6" height="17.1" fill="#9a9a9a"/>
<rect x="826.6" y="918.5" width="4.6" height="16.2" fill="#9a9a9a"/>
<rect x="805.6" y="892.6" width="28.6" height="31.1" fill="none" stroke="#111" stroke-width="1.8"/>
<line x1="803.3" y1="893.5" x2="803.3" y2="923.5" stroke="#111" stroke-width="1.2"/>
<text class="L" transform="translate(820.4,908) rotate(-90) scale(0.8,1)" x="-27.5" y="8.4" font-size="23" letter-spacing="4.45">U18</text>
<rect x="846.2" y="880.2" width="4.6" height="17.1" fill="#9a9a9a"/>
<rect x="846.2" y="918.5" width="4.6" height="16.2" fill="#9a9a9a"/>
<rect x="852" y="880.2" width="4.6" height="17.1" fill="#9a9a9a"/>
<rect x="852" y="918.5" width="4.6" height="16.2" fill="#9a9a9a"/>
<rect x="857.9" y="880.2" width="4.6" height="17.1" fill="#9a9a9a"/>
<rect x="857.9" y="918.5" width="4.6" height="16.2" fill="#9a9a9a"/>
<rect x="863.7" y="880.2" width="4.6" height="17.1" fill="#9a9a9a"/>
<rect x="863.7" y="918.5" width="4.6" height="16.2" fill="#9a9a9a"/>
<rect x="843.2" y="892.6" width="28.1" height="31.1" fill="none" stroke="#111" stroke-width="1.8"/>
<line x1="840.9" y1="893.5" x2="840.9" y2="923.5" stroke="#111" stroke-width="1.2"/>
<text class="L" transform="translate(857.8,908) rotate(-90) scale(0.8,1)" x="-27.5" y="8.4" font-size="23" letter-spacing="4.45">U22</text>
<text class="a" transform="translate(733.6,874) scale(0.85,1)" x="-4.2" y="5.2" font-size="15">8</text>
<text class="a" transform="translate(768.9,874) scale(0.85,1)" x="-9.5" y="5.2" font-size="15" letter-spacing="2.37">58</text>
<text class="a" transform="translate(803.5,874) scale(0.85,1)" x="-9.5" y="5.2" font-size="15" letter-spacing="2.37">58</text>
<text class="a" transform="translate(838.4,874) scale(0.85,1)" x="-9.5" y="5.2" font-size="15" letter-spacing="2.37">58</text>
<text class="a" transform="translate(871.5,874) scale(0.85,1)" x="-4.2" y="5.2" font-size="15">5</text>
<text class="a" transform="translate(732.5,938) scale(0.85,1)" x="-4.2" y="5.2" font-size="15">1</text>
<text class="a" transform="translate(761.4,944) scale(0.85,1)" x="-4.2" y="5.2" font-size="15">4</text>
<text class="a" transform="translate(773.6,945) scale(0.85,1)" x="-4.2" y="5.2" font-size="15">1</text>
<text class="a" transform="translate(792.4,945) scale(0.85,1)" x="-4.2" y="5.2" font-size="15">4</text>
<text class="a" transform="translate(810.6,945) scale(0.85,1)" x="-4.2" y="5.2" font-size="15">1</text>
<text class="a" transform="translate(829.8,944) scale(0.85,1)" x="-4.2" y="5.2" font-size="15">4</text>
<text class="a" transform="translate(840.5,933) scale(0.85,1)" x="-4.2" y="5.2" font-size="15">1</text>
<text class="a" transform="translate(877.5,936) scale(0.85,1)" x="-4.2" y="5.2" font-size="15">4</text>
<text class="a" transform="translate(726.5,850) scale(0.85,1)" x="-19.9" y="5.2" font-size="15" letter-spacing="1.30">C151</text>
<rect x="718.4" y="858.2" width="19.7" height="8.4" fill="#9a9a9a" rx="3"/>
<rect x="721.4" y="859.2" width="13.7" height="6.4" fill="#666" stroke="#111" stroke-width="1.6"/>
<text class="a" transform="translate(858,850) scale(0.85,1)" x="-14.7" y="5.2" font-size="15" letter-spacing="0.95">C62</text>
<rect x="846.8" y="858.2" width="19.7" height="8.4" fill="#9a9a9a" rx="3"/>
<rect x="849.8" y="859.2" width="13.7" height="6.4" fill="#666" stroke="#111" stroke-width="1.6"/>
<rect x="718.4" y="948.6" width="19.7" height="8.4" fill="#9a9a9a" rx="3"/>
<rect x="721.4" y="949.6" width="13.7" height="6.4" fill="#666" stroke="#111" stroke-width="1.6"/>
<text class="a" transform="translate(727.8,966.5) scale(0.85,1)" x="-19.9" y="5.2" font-size="15" letter-spacing="1.30">C150</text>
<rect x="843.5" y="948.6" width="19.7" height="8.4" fill="#9a9a9a" rx="3"/>
<rect x="846.5" y="949.6" width="13.7" height="6.4" fill="#666" stroke="#111" stroke-width="1.6"/>
<text class="a" transform="translate(883.3,953) scale(0.85,1)" x="-14.7" y="5.2" font-size="15" letter-spacing="0.95">C66</text>
<text class="b" transform="translate(804.6,966.5) scale(1.15,1)" x="-16.5" y="5.3" font-size="15.5" letter-spacing="-0.27">DBG</text>
<text class="a" transform="translate(852.3,978) rotate(-90) scale(0.85,1)" x="-14.7" y="5.2" font-size="15" letter-spacing="0.95">R78</text>
<text class="a" transform="translate(868.3,978) rotate(-90) scale(0.85,1)" x="-14.7" y="5.2" font-size="15" letter-spacing="0.95">C25</text>
<rect x="851.1" y="996" width="8.7" height="19.9" fill="#9a9a9a" rx="3"/>
<rect x="852.1" y="999" width="6.7" height="13.4" fill="#666" stroke="#111" stroke-width="1.6"/>
<rect x="862.9" y="996" width="8.7" height="19.9" fill="#9a9a9a" rx="3"/>
<rect x="863.9" y="999" width="6.7" height="13.4" fill="#666" stroke="#111" stroke-width="1.6"/>
<text class="a" transform="translate(756,1002) rotate(-90) scale(0.85,1)" x="-14.7" y="5.2" font-size="15" letter-spacing="2.61">J30</text>
<rect x="765.4" y="979.3" width="75.4" height="47.6" fill="#fff" stroke="#e0004d" stroke-width="5.8"/>
<text class="b" transform="translate(802.7,1003.5)" x="-23" y="9.8" font-size="28.5" style="fill:#e0004d">J30</text>
<g transform="translate(353.5,903.2) rotate(180)" fill="none" stroke="#111" stroke-width="1.5">
<path d="M-15 0H15 M-8 -8V8 L7.2 0Z M7.2 -8V8"/>
</g>
<text class="a" transform="translate(392,905) scale(0.85,1)" x="-14.7" y="5.2" font-size="15" letter-spacing="0.95">D14</text>
<rect x="342.3" y="917" width="8.2" height="16" fill="#9a9a9a"/>
<rect x="364.5" y="917" width="8.2" height="16" fill="#9a9a9a"/>
<rect x="345.5" y="916.5" width="24" height="17" fill="none" stroke="#111" stroke-width="1.5"/>
<line x1="348.7" y1="892.6" x2="348.7" y2="936" stroke="#111" stroke-width="1.3"/>
<line x1="344" y1="915.5" x2="371" y2="915.5" stroke="#111" stroke-width="1.6"/>
<rect x="353" y="922" width="8" height="4" fill="#444"/>
<path d="M327.4 923.8L349.2 915.2V933.4Z M327 923.8H411" fill="none" stroke="#111" stroke-width="1.1" />
<text class="b" transform="translate(396,923) scale(1.15,1)" x="-17.4" y="5.3" font-size="15.5" letter-spacing="1.46">OTP</text>
<text class="a" transform="translate(392,936) scale(0.85,1)" x="-42.9" y="5.2" font-size="15" letter-spacing="1.19">PCB EDGE</text>
<rect x="339.5" y="944.3" width="11.2" height="12.1" fill="#9a9a9a"/>
<rect x="364.3" y="944.3" width="11.2" height="12.1" fill="#9a9a9a"/>
<path d="M339 943V938.3H373.5V943M339 958V962.4H373.5V958" fill="none" stroke="#111" stroke-width="1.5" />
<rect x="342.3" y="941.1" width="30" height="19.7" fill="none" stroke="#111" stroke-width="2"/>
<rect x="353.5" y="948.5" width="7" height="4" fill="#444"/>
<text class="a" transform="translate(392.4,942.5) scale(0.85,1)" x="-14.7" y="5.2" font-size="15" letter-spacing="0.95">D15</text>
<text class="b" transform="translate(398.4,958) scale(1.15,1)" x="-16.5" y="5.3" font-size="15.5" letter-spacing="-0.27">DBG</text>
<g transform="translate(358,976.8) rotate(180)" fill="none" stroke="#111" stroke-width="1.5">
<path d="M-17 0H17 M-8 -8V8 L7.2 0Z M7.2 -8V8"/>
</g>
<text class="a" transform="translate(464.7,893) rotate(-90) scale(0.85,1)" x="-14.7" y="5.2" font-size="15" letter-spacing="0.95">R80</text>
<text class="a" transform="translate(484,893) rotate(-90) scale(0.85,1)" x="-14.7" y="5.2" font-size="15" letter-spacing="0.95">R79</text>
<rect x="458.4" y="917.2" width="13.4" height="30.4" fill="#9a9a9a" rx="4.5"/>
<rect x="460.4" y="922.2" width="9.4" height="20.4" fill="#9a9a9a" stroke="#111" stroke-width="1.8"/>
<rect x="461.4" y="928.3" width="7.4" height="8.2" fill="#e8e8e8"/>
<rect x="463.1" y="927.9" width="4" height="9" fill="#1a1a1a"/>
<rect x="477.3" y="917.2" width="13.4" height="30.4" fill="#9a9a9a" rx="4.5"/>
<rect x="479.3" y="922.2" width="9.4" height="20.4" fill="#9a9a9a" stroke="#111" stroke-width="1.8"/>
<rect x="480.3" y="928.3" width="7.4" height="8.2" fill="#e8e8e8"/>
<rect x="482" y="927.9" width="4" height="9" fill="#1a1a1a"/>
<rect x="502" y="914.4" width="16" height="8" fill="#9a9a9a"/>
<rect x="502" y="926.2" width="16" height="8" fill="#9a9a9a"/>
<rect x="502" y="938" width="16" height="8" fill="#9a9a9a"/>
<rect x="539" y="914.4" width="15.5" height="8" fill="#9a9a9a"/>
<rect x="539" y="938" width="15.5" height="8" fill="#9a9a9a"/>
<rect x="517.1" y="908.8" width="22.5" height="41.3" fill="none" stroke="#111" stroke-width="1.5"/>
<path d="M514 911V906.5H542V911M514 948V952.5H542V948" fill="none" stroke="#111" stroke-width="1" />
<text class="L" transform="translate(527.4,929.5) scale(0.8,1)" x="-21.6" y="10.2" font-size="28" letter-spacing="4.94">U7</text>
<text class="a" transform="translate(506.4,907.3) rotate(-90) scale(0.85,1)" x="-4.2" y="5.2" font-size="15">1</text>
<text class="a" transform="translate(527.8,961.5) scale(0.85,1)" x="-9.5" y="5.2" font-size="15" letter-spacing="-0.12">U7</text>
<rect x="561.4" y="916.4" width="30.5" height="13.6" fill="#9a9a9a" rx="4.5"/>
<rect x="566.4" y="918.4" width="20.5" height="9.6" fill="#9a9a9a" stroke="#111" stroke-width="1.8"/>
<rect x="572.5" y="919.4" width="8.2" height="7.6" fill="#e8e8e8"/>
<rect x="572.1" y="921.2" width="9" height="4" fill="#1a1a1a"/>
<rect x="561.4" y="935.2" width="30.5" height="13.6" fill="#9a9a9a" rx="4.5"/>
<rect x="566.4" y="937.2" width="20.5" height="9.6" fill="#9a9a9a" stroke="#111" stroke-width="1.8"/>
<rect x="572.5" y="938.2" width="8.2" height="7.6" fill="#e8e8e8"/>
<rect x="572.1" y="940" width="9" height="4" fill="#1a1a1a"/>
<text class="a" transform="translate(616,923.2) scale(0.85,1)" x="-14.7" y="5.2" font-size="15" letter-spacing="0.95">R84</text>
<text class="a" transform="translate(616,942) scale(0.85,1)" x="-14.7" y="5.2" font-size="15" letter-spacing="0.95">R82</text>
<text class="a" transform="translate(459.4,961.5) scale(0.85,1)" x="-14.7" y="5.2" font-size="15" letter-spacing="-1.55">SW4</text>
<rect x="419.4" y="972.6" width="85.5" height="17.4" fill="none" stroke="#111" stroke-width="1"/>
<rect x="396.3" y="991.2" width="16.7" height="13.5" fill="#9a9a9a"/>
<rect x="512" y="991.2" width="17" height="13.5" fill="#9a9a9a"/>
<rect x="402" y="996.5" width="2" height="3" fill="#222"/>
<rect x="414.1" y="979.7" width="96.9" height="43.9" fill="#fff" stroke="#e0004d" stroke-width="5.8"/>
<text class="b" transform="translate(463,1001.9)" x="-30.9" y="9.8" font-size="28.5" style="fill:#e0004d">SW4</text>
<text class="a" transform="translate(407.4,983.7) scale(0.85,1)" x="-4.2" y="5.2" font-size="15">1</text>
<text class="b" transform="translate(423,1037) scale(1.15,1)" x="-77.4" y="5.5" font-size="16" letter-spacing="2.80">WAKE2_IN/HID0</text>
<text class="a" transform="translate(659.8,961.5) scale(0.85,1)" x="-19.9" y="5.2" font-size="15" letter-spacing="-0.36">SW12</text>
<rect x="614.9" y="972.5" width="86.6" height="17.5" fill="none" stroke="#111" stroke-width="1"/>
<rect x="590.9" y="991.3" width="14.1" height="13.3" fill="#9a9a9a"/>
<rect x="704" y="991.3" width="20" height="13.3" fill="#9a9a9a"/>
<rect x="606" y="979.3" width="97.5" height="42.8" fill="#fff" stroke="#e0004d" stroke-width="5.8"/>
<text class="b" transform="translate(655.5,1000.5)" x="-38.8" y="9.8" font-size="28.5" style="fill:#e0004d">SW12</text>
<text class="b" transform="translate(657.2,1034.5) scale(1.15,1)" x="-17.4" y="5.3" font-size="15.5" letter-spacing="1.46">OTP</text>
<rect x="396" y="1071.4" width="25" height="14.3" fill="#9a9a9a"/>
<rect x="503" y="1071.4" width="26" height="14.3" fill="#9a9a9a"/>
<rect x="402" y="1077" width="2" height="3" fill="#222"/>
<rect x="420.5" y="1053.5" width="83.3" height="49.7" fill="none" stroke="#111" stroke-width="2.6"/>
<line x1="420" y1="1055.8" x2="504" y2="1055.8" stroke="#111" stroke-width="1"/>
<text class="L" transform="translate(462.6,1078.5) scale(0.68,1)" x="-67.6" y="14.6" font-size="40" letter-spacing="6.48">SW19</text>
<text class="a" transform="translate(407,1063.9) scale(0.85,1)" x="-4.2" y="5.2" font-size="15">1</text>
<text class="b" transform="translate(475,1115.7) scale(1.15,1)" x="-77" y="5.5" font-size="16" letter-spacing="2.72">WAKE3_IN/HID1</text>
<text class="a" transform="translate(460.9,1135.5) scale(0.85,1)" x="-19.9" y="5.2" font-size="15" letter-spacing="-0.36">SW19</text>
<circle cx="362.7" cy="1108.8" r="10" fill="#9a9a9a" stroke="none" stroke-width="0"/>
<rect x="621.2" y="1062.1" width="8.7" height="19.9" fill="#9a9a9a" rx="3"/>
<rect x="622.2" y="1065.1" width="6.7" height="13.4" fill="#666" stroke="#111" stroke-width="1.6"/>
<rect x="634.6" y="1062.1" width="8.7" height="19.9" fill="#9a9a9a" rx="3"/>
<rect x="635.6" y="1065.1" width="6.7" height="13.4" fill="#666" stroke="#111" stroke-width="1.6"/>
<text class="a" transform="translate(625.6,1095) rotate(-90) scale(0.85,1)" x="-9.5" y="5.2" font-size="15" letter-spacing="-0.12">R9</text>
<text class="a" transform="translate(639,1095) rotate(-90) scale(0.85,1)" x="-9.5" y="5.2" font-size="15" letter-spacing="-0.12">R2</text>
<text class="a" transform="translate(681.6,1055.5) scale(0.85,1)" x="-9.5" y="5.2" font-size="15" letter-spacing="-0.12">R3</text>
<rect x="657.5" y="1065.2" width="18.3" height="25.5" fill="#9a9a9a"/>
<rect x="690" y="1065.2" width="18.2" height="25.5" fill="#9a9a9a"/>
<rect x="668.3" y="1103.5" width="27.5" height="21.3" fill="#9a9a9a"/>
<path d="M659 1070.5H648.5V1122.3H668M696 1122.3H716.3V1070.5H709M676 1070.5H689" fill="none" stroke="#111" stroke-width="1.2" />
<rect x="651.5" y="1074" width="61.5" height="45" fill="none" stroke="#111" stroke-width="1.2"/>
<circle cx="667" cy="1104.6" r="9" fill="none" stroke="#111" stroke-width="1.3"/>
<path d="M660 1101l10 10M662.5 1098l10.5 10.5M666 1096l8 8" fill="none" stroke="#111" stroke-width="1.1" />
<text class="L" transform="translate(683,1094) scale(0.8,1)" x="-31.2" y="13.9" font-size="38" letter-spacing="11.92">R3</text>
<text class="a" transform="translate(724.2,1074.8) scale(0.85,1)" x="-4.2" y="5.2" font-size="15">1</text>
<circle cx="716" cy="1063" r="1.7" fill="none" stroke="#111" stroke-width="1"/>
<text class="a" transform="translate(357.5,1150.4) scale(0.85,1)" x="-14.7" y="5.2" font-size="15" letter-spacing="0.12">BH1</text>
<circle cx="372.5" cy="1198.4" r="41" fill="#9a9a9a" stroke="#111" stroke-width="1.9"/>
<circle cx="372.5" cy="1198.4" r="38.2" fill="none" stroke="#222" stroke-width="1.6"/>
<circle cx="372.5" cy="1198.4" r="19" fill="#c6c6c6" stroke="#222" stroke-width="1.5"/>
<text class="L" transform="translate(372.5,1199.4) scale(0.8,1)" x="-43.8" y="14.6" font-size="40" letter-spacing="2.89">BH1</text>
<text class="a" transform="translate(490,1162) scale(0.85,1)" x="-4.2" y="5.2" font-size="15">2</text>
<text class="a" transform="translate(603.7,1163) scale(0.85,1)" x="-9.5" y="5.2" font-size="15" letter-spacing="3.22">J4</text>
<text class="a" transform="translate(713.5,1162) scale(0.85,1)" x="-9.5" y="5.2" font-size="15" letter-spacing="2.37">16</text>
<text class="a" transform="translate(745,1224) scale(0.85,1)" x="-9.5" y="5.2" font-size="15" letter-spacing="2.37">15</text>
<text class="a" transform="translate(463.7,1222) scale(0.85,1)" x="-4.2" y="5.2" font-size="15">1</text>
<rect x="475" y="1172.4" width="255.6" height="63.9" fill="none" stroke="#111" stroke-width="1.2"/>
<path d="M491 1169.5H472.6V1229L480 1239.5H491M713 1169.5H733.3V1239.5H713" fill="none" stroke="#111" stroke-width="1.6" />
<circle cx="490.1" cy="1187.3" r="11" fill="#9a9a9a" stroke="none" stroke-width="0"/>
<circle cx="490.1" cy="1187.3" r="7.5" fill="#c6c6c6" stroke="none" stroke-width="0"/>
<rect x="479.1" y="1208.2" width="22" height="22" fill="#9a9a9a"/>
<circle cx="490.1" cy="1219.2" r="7.5" fill="#c6c6c6" stroke="none" stroke-width="0"/>
<rect x="489.3" y="1217.7" width="1.6" height="3" fill="#222"/>
<circle cx="522.1" cy="1187.3" r="11" fill="#9a9a9a" stroke="none" stroke-width="0"/>
<circle cx="522.1" cy="1187.3" r="7.5" fill="#c6c6c6" stroke="none" stroke-width="0"/>
<circle cx="522.1" cy="1219.2" r="11" fill="#9a9a9a" stroke="none" stroke-width="0"/>
<circle cx="522.1" cy="1219.2" r="7.5" fill="#c6c6c6" stroke="none" stroke-width="0"/>
<circle cx="554.1" cy="1187.3" r="11" fill="#9a9a9a" stroke="none" stroke-width="0"/>
<circle cx="554.1" cy="1187.3" r="7.5" fill="#c6c6c6" stroke="none" stroke-width="0"/>
<circle cx="554.1" cy="1219.2" r="11" fill="#9a9a9a" stroke="none" stroke-width="0"/>
<circle cx="554.1" cy="1219.2" r="7.5" fill="#c6c6c6" stroke="none" stroke-width="0"/>
<circle cx="586.2" cy="1187.3" r="11" fill="#9a9a9a" stroke="none" stroke-width="0"/>
<circle cx="586.2" cy="1187.3" r="7.5" fill="#c6c6c6" stroke="none" stroke-width="0"/>
<circle cx="586.2" cy="1219.2" r="11" fill="#9a9a9a" stroke="none" stroke-width="0"/>
<circle cx="586.2" cy="1219.2" r="7.5" fill="#c6c6c6" stroke="none" stroke-width="0"/>
<circle cx="618.2" cy="1187.3" r="11" fill="#9a9a9a" stroke="none" stroke-width="0"/>
<circle cx="618.2" cy="1187.3" r="7.5" fill="#c6c6c6" stroke="none" stroke-width="0"/>
<circle cx="618.2" cy="1219.2" r="11" fill="#9a9a9a" stroke="none" stroke-width="0"/>
<circle cx="618.2" cy="1219.2" r="7.5" fill="#c6c6c6" stroke="none" stroke-width="0"/>
<circle cx="650.2" cy="1187.3" r="11" fill="#9a9a9a" stroke="none" stroke-width="0"/>
<circle cx="650.2" cy="1187.3" r="7.5" fill="#c6c6c6" stroke="none" stroke-width="0"/>
<circle cx="650.2" cy="1219.2" r="11" fill="#9a9a9a" stroke="none" stroke-width="0"/>
<circle cx="650.2" cy="1219.2" r="7.5" fill="#c6c6c6" stroke="none" stroke-width="0"/>
<circle cx="682.2" cy="1187.3" r="11" fill="#9a9a9a" stroke="none" stroke-width="0"/>
<circle cx="682.2" cy="1187.3" r="7.5" fill="#c6c6c6" stroke="none" stroke-width="0"/>
<circle cx="682.2" cy="1219.2" r="11" fill="#9a9a9a" stroke="none" stroke-width="0"/>
<circle cx="682.2" cy="1219.2" r="7.5" fill="#c6c6c6" stroke="none" stroke-width="0"/>
<circle cx="714.2" cy="1187.3" r="11" fill="#9a9a9a" stroke="none" stroke-width="0"/>
<circle cx="714.2" cy="1187.3" r="7.5" fill="#c6c6c6" stroke="none" stroke-width="0"/>
<circle cx="714.2" cy="1219.2" r="11" fill="#9a9a9a" stroke="none" stroke-width="0"/>
<circle cx="714.2" cy="1219.2" r="7.5" fill="#c6c6c6" stroke="none" stroke-width="0"/>
<text class="L" transform="translate(603.7,1204.7) scale(0.8,1)" x="-31.2" y="15.3" font-size="42" letter-spacing="23.39">J4</text>
<rect x="810.8" y="1044.2" width="10" height="10.8" fill="#9a9a9a"/>
<rect x="835.3" y="1044.2" width="10" height="10.8" fill="#9a9a9a"/>
<rect x="821" y="1073" width="12.5" height="10" fill="#9a9a9a"/>
<rect x="805.8" y="1054.5" width="44.7" height="19.6" fill="none" stroke="#111" stroke-width="1.3"/>
<path d="M808.5 1062V1071.5H821M835 1071.5H847.5V1062" fill="none" stroke="#111" stroke-width="1.3" />
<line x1="822" y1="1053" x2="834" y2="1053" stroke="#111" stroke-width="1.6"/>
<text class="L" transform="translate(828,1064) scale(0.8,1)" x="-21.2" y="8.7" font-size="24" letter-spacing="8.34">Q9</text>
<text class="a" transform="translate(802.4,1048) scale(0.85,1)" x="-4.2" y="5.2" font-size="15">2</text>
<text class="a" transform="translate(850,1048) scale(0.85,1)" x="-4.2" y="5.2" font-size="15">1</text>
<text class="a" transform="translate(811.6,1086) scale(0.85,1)" x="-9.5" y="5.2" font-size="15" letter-spacing="-0.95">Q9</text>
<rect x="826" y="1090" width="17" height="9" fill="#9a9a9a" rx="3"/>
<rect x="828.5" y="1091.5" width="12" height="6" fill="#222"/>
<text class="a" transform="translate(865.9,1096) scale(0.85,1)" x="-19.9" y="5.2" font-size="15" letter-spacing="1.30">R161</text>
<text class="b" transform="translate(800.3,1114) scale(1.15,1)" x="-10.4" y="5.3" font-size="15.5" letter-spacing="1.91">V3</text>
<rect x="817.5" y="1101" width="34.1" height="22.8" fill="none" stroke="#111" stroke-width="1.6"/>
<rect x="820" y="1104" width="29.5" height="17.5" fill="none" stroke="#111" stroke-width="1.2"/>
<rect x="821" y="1105" width="7" height="15.5" fill="#9a9a9a"/>
<rect x="842" y="1105" width="7" height="15.5" fill="#9a9a9a"/>
<rect x="832.5" y="1110" width="4" height="4.5" fill="#444"/>
<g transform="translate(871.2,1113.5) rotate(0)" fill="none" stroke="#111" stroke-width="1.5">
<path d="M-16 0H16 M-7 -7V7 L6.3 0Z M6.3 -7V7"/>
</g>
<text class="a" transform="translate(835.6,1134) scale(0.85,1)" x="-9.5" y="5.2" font-size="15" letter-spacing="-0.12">D9</text>
<line x1="825" y1="1134" x2="846" y2="1134" stroke="#111" stroke-width="1"/>
<line x1="773.8" y1="1143" x2="773.8" y2="1244" stroke="#111" stroke-width="1.1"/>
<path d="M777 1260V1143H891.5V1244" fill="none" stroke="#111" stroke-width="2.6" />
<line x1="891.5" y1="1244" x2="891.5" y2="1260" stroke="#111" stroke-width="1.1"/>
<rect x="797" y="1148.4" width="24" height="24" fill="#9a9a9a"/>
<circle cx="809" cy="1160.4" r="8.2" fill="#c6c6c6" stroke="none" stroke-width="0"/>
<rect x="808.2" y="1158.9" width="1.6" height="3" fill="#222"/>
<circle cx="857.4" cy="1160.4" r="12" fill="#9a9a9a" stroke="none" stroke-width="0"/>
<circle cx="857.4" cy="1160.4" r="8.2" fill="#c6c6c6" stroke="none" stroke-width="0"/>
<rect x="856.6" y="1158.9" width="1.6" height="3" fill="#222"/>
<text class="L" transform="translate(832.9,1203) rotate(-90) scale(0.8,1)" x="-30" y="16" font-size="44" letter-spacing="19.03">J7</text>
<text class="a" transform="translate(767.2,1155.7) scale(0.85,1)" x="-4.2" y="5.2" font-size="15">1</text>
<text class="a" transform="translate(901,1155.7) scale(0.85,1)" x="-4.2" y="5.2" font-size="15">2</text>
<text class="a" transform="translate(903.6,1200.5) rotate(-90) scale(0.85,1)" x="-9.5" y="5.2" font-size="15" letter-spacing="3.22">J7</text>
<text class="a" transform="translate(917,1155.7) scale(0.85,1)" x="-4.2" y="5.2" font-size="15">1</text>
<path d="M923.9 1244V1143H1040V1260" fill="none" stroke="#111" stroke-width="2.6" />
<line x1="923.9" y1="1244" x2="923.9" y2="1260" stroke="#111" stroke-width="1.1"/>
<text class="a" transform="translate(933.7,1178) rotate(-90) scale(0.85,1)" x="-42.9" y="5.2" font-size="15" letter-spacing="1.19">PCB EDGE</text>
<path d="M923.4 1240L915 1220.7H932Z" fill="none" stroke="#111" stroke-width="1.1" />
<rect x="945.5" y="1148.4" width="24" height="24" fill="#9a9a9a"/>
<circle cx="957.5" cy="1160.4" r="8.2" fill="#c6c6c6" stroke="none" stroke-width="0"/>
<rect x="956.7" y="1158.9" width="1.6" height="3" fill="#222"/>
<circle cx="1006.5" cy="1160.4" r="12" fill="#9a9a9a" stroke="none" stroke-width="0"/>
<circle cx="1006.5" cy="1160.4" r="8.2" fill="#c6c6c6" stroke="none" stroke-width="0"/>
<rect x="1005.7" y="1158.9" width="1.6" height="3" fill="#222"/>
<text class="L" transform="translate(982,1202) rotate(-90) scale(0.8,1)" x="-48.8" y="16" font-size="44" letter-spacing="14.27">J35</text>
<text class="a" transform="translate(1049.6,1154.3) scale(0.85,1)" x="-4.2" y="5.2" font-size="15">2</text>
<text class="a" transform="translate(1051.3,1201.4) rotate(-90) scale(0.85,1)" x="-14.7" y="5.2" font-size="15" letter-spacing="2.61">J35</text>
<text class="a" transform="translate(978.8,1037.5) scale(0.85,1)" x="-19.9" y="5.2" font-size="15" letter-spacing="1.30">R223</text>
<rect x="952.2" y="1052.4" width="30.5" height="13.6" fill="#9a9a9a" rx="4.5"/>
<rect x="957.2" y="1054.4" width="20.5" height="9.6" fill="#9a9a9a" stroke="#111" stroke-width="1.8"/>
<rect x="963.4" y="1055.4" width="8.2" height="7.6" fill="#e8e8e8"/>
<rect x="963" y="1057.2" width="9" height="4" fill="#1a1a1a"/>
<text class="a" transform="translate(991.6,1075) rotate(-90) scale(0.85,1)" x="-14.7" y="5.2" font-size="15" letter-spacing="0.95">C81</text>
<text class="a" transform="translate(1008.5,1075) rotate(-90) scale(0.85,1)" x="-14.7" y="5.2" font-size="15" letter-spacing="0.95">C82</text>
<g transform="translate(931.5,1104.6) rotate(-90)" fill="none" stroke="#111" stroke-width="1.5">
<path d="M-15 0H15 M-6.5 -6.5V6.5 L5.9 0Z M5.9 -6.5V6.5"/>
</g>
<rect x="950" y="1078" width="16.7" height="17" fill="#9a9a9a"/>
<rect x="950" y="1114.2" width="16.7" height="15.8" fill="#9a9a9a"/>
<rect x="944.3" y="1084.8" width="28.1" height="40.5" fill="none" stroke="#111" stroke-width="1.2"/>
<path d="M947 1092V1087H969.5V1092M947 1118V1122.5H969.5V1118" fill="none" stroke="#111" stroke-width="1.8" />
<text class="L" transform="translate(958.5,1105) rotate(-90) scale(0.8,1)" x="-25" y="8" font-size="22" letter-spacing="2.53">D16</text>
<text class="a" transform="translate(982,1103) rotate(-90) scale(0.85,1)" x="-14.7" y="5.2" font-size="15" letter-spacing="0.95">D16</text>
<rect x="995.7" y="1094.5" width="19.6" height="37" fill="#9a9a9a" rx="5"/>
<rect x="997.7" y="1099" width="16.6" height="28" fill="#fff" stroke="#111" stroke-width="1.5"/>
<rect x="998.4" y="1099.7" width="15.2" height="5.7" fill="#9a9a9a"/>
<rect x="998.4" y="1120" width="15.2" height="6.3" fill="#9a9a9a"/>
<line x1="997.7" y1="1110.2" x2="1014.3" y2="1110.2" stroke="#111" stroke-width="1.5"/>
<line x1="997.7" y1="1115.8" x2="1014.3" y2="1115.8" stroke="#111" stroke-width="1.5"/>
<rect x="1003.7" y="1107" width="4.6" height="12" fill="#1a1a1a"/>
<rect x="1023.3" y="1095.7" width="15.3" height="29.6" fill="#9a9a9a" rx="4.5"/>
<rect x="1026.3" y="1099.7" width="9.3" height="20.6" fill="#9a9a9a" stroke="#111" stroke-width="1.7"/>
<rect x="1021.3" y="1107.6" width="18.8" height="4.8" fill="#fff" stroke="#111" stroke-width="1.5"/>
<rect x="1029.5" y="1105" width="3" height="10" fill="#333"/>
<text class="a" transform="translate(1019.7,990) scale(0.85,1)" x="-14.7" y="5.2" font-size="15" letter-spacing="1.50">U11</text>
<rect x="1036.1" y="978.2" width="47.8" height="29.9" fill="#9a9a9a"/>
<rect x="1023.1" y="1056.6" width="15.7" height="28.9" fill="#9a9a9a"/>
<rect x="1052.4" y="1056.6" width="15.7" height="28.9" fill="#9a9a9a"/>
<rect x="1081.3" y="1056.6" width="15.7" height="28.9" fill="#9a9a9a"/>
<rect x="1030.2" y="1069" width="1.6" height="3" fill="#222"/>
<rect x="1059.2" y="1069" width="1.6" height="3" fill="#222"/>
<rect x="1088.2" y="1069" width="1.6" height="3" fill="#222"/>
<rect x="1016.5" y="1007.3" width="85.5" height="48.2" fill="#fff" stroke="#111" stroke-width="2.4"/>
<path d="M1105 1006V1058H1080" fill="none" stroke="#111" stroke-width="1.1" />
<rect x="1037" y="1007" width="46" height="1.5" fill="#9a9a9a"/>
<text class="L" transform="translate(1060,1035.7) rotate(-90) scale(0.8,1)" x="-50" y="15.3" font-size="42" letter-spacing="7.91">U11</text>
<text class="a" transform="translate(1018.2,1073) scale(0.85,1)" x="-4.2" y="5.2" font-size="15">1</text>
<text class="a" transform="translate(1104.8,1073) scale(0.85,1)" x="-4.2" y="5.2" font-size="15">3</text>
<rect x="1050.7" y="1093.4" width="48.8" height="27.8" fill="none" stroke="#111" stroke-width="1.1"/>
<rect x="1052.4" y="1095.5" width="10.7" height="23.1" fill="#9a9a9a"/>
<rect x="1085.6" y="1095.5" width="10.7" height="23.1" fill="#9a9a9a"/>
<rect x="1052.4" y="1095.5" width="44.6" height="23.1" fill="none" stroke="#111" stroke-width="2"/>
<text class="L" transform="translate(1074.5,1107) scale(0.85,1)" x="-23.5" y="6.6" font-size="18" letter-spacing="5.79">C83</text>
<text class="a" transform="translate(1073.8,1131) scale(0.85,1)" x="-14.7" y="5.2" font-size="15" letter-spacing="0.95">C83</text>
<text class="a" transform="translate(1138.6,1159) scale(0.85,1)" x="-14.7" y="5.2" font-size="15" letter-spacing="2.61">J44</text>
<rect x="1067.7" y="1168.6" width="136" height="69.7" fill="none" stroke="#111" stroke-width="2.4"/>
<line x1="1069.8" y1="1168" x2="1069.8" y2="1239" stroke="#111" stroke-width="1"/>
<line x1="1206.2" y1="1168" x2="1206.2" y2="1239" stroke="#111" stroke-width="1"/>
<circle cx="1087.7" cy="1187" r="11" fill="#9a9a9a" stroke="none" stroke-width="0"/>
<circle cx="1087.7" cy="1187" r="7.5" fill="#c6c6c6" stroke="none" stroke-width="0"/>
<rect x="1086.9" y="1185.5" width="1.6" height="3" fill="#222"/>
<rect x="1076.7" y="1208.6" width="22" height="22" fill="#9a9a9a"/>
<circle cx="1087.7" cy="1219.6" r="7.5" fill="#c6c6c6" stroke="none" stroke-width="0"/>
<rect x="1086.9" y="1218.1" width="1.6" height="3" fill="#222"/>
<circle cx="1119.4" cy="1187" r="11" fill="#9a9a9a" stroke="none" stroke-width="0"/>
<circle cx="1119.4" cy="1187" r="7.5" fill="#c6c6c6" stroke="none" stroke-width="0"/>
<circle cx="1119.4" cy="1219.6" r="11" fill="#9a9a9a" stroke="none" stroke-width="0"/>
<circle cx="1119.4" cy="1219.6" r="7.5" fill="#c6c6c6" stroke="none" stroke-width="0"/>
<circle cx="1151.4" cy="1187" r="11" fill="#9a9a9a" stroke="none" stroke-width="0"/>
<circle cx="1151.4" cy="1187" r="7.5" fill="#c6c6c6" stroke="none" stroke-width="0"/>
<circle cx="1151.4" cy="1219.6" r="11" fill="#9a9a9a" stroke="none" stroke-width="0"/>
<circle cx="1151.4" cy="1219.6" r="7.5" fill="#c6c6c6" stroke="none" stroke-width="0"/>
<circle cx="1183.5" cy="1187" r="11" fill="#9a9a9a" stroke="none" stroke-width="0"/>
<circle cx="1183.5" cy="1187" r="7.5" fill="#c6c6c6" stroke="none" stroke-width="0"/>
<rect x="1182.7" y="1185.5" width="1.6" height="3" fill="#222"/>
<circle cx="1183.5" cy="1219.6" r="11" fill="#9a9a9a" stroke="none" stroke-width="0"/>
<circle cx="1183.5" cy="1219.6" r="7.5" fill="#c6c6c6" stroke="none" stroke-width="0"/>
<rect x="1182.7" y="1218.1" width="1.6" height="3" fill="#222"/>
<text class="L" transform="translate(1137,1204.5) scale(0.8,1)" x="-48.1" y="13.9" font-size="38" letter-spacing="18.34">J44</text>
<text class="a" transform="translate(1082.4,1178) rotate(-90) scale(0.85,1)" x="-42.9" y="5.2" font-size="15" letter-spacing="1.19">PCB EDGE</text>
<path d="M1072.7 1243L1064.5 1220.6H1081Z M1072.7 1157.5V1243" fill="none" stroke="#111" stroke-width="1.1" />
<text class="a" transform="translate(1188.2,1160.7) rotate(-90) scale(0.85,1)" x="-4.2" y="5.2" font-size="15">8</text>
<text class="a" transform="translate(1090.9,1160.7) rotate(-90) scale(0.85,1)" x="-4.2" y="5.2" font-size="15">2</text>
<text class="a" transform="translate(1086.6,1245.2) rotate(-90) scale(0.85,1)" x="-4.2" y="5.2" font-size="15">1</text>
<text class="a" transform="translate(1188.2,1245.2) rotate(-90) scale(0.85,1)" x="-4.2" y="5.2" font-size="15">7</text>
<text class="a" transform="translate(1234.2,1170.5) rotate(-90) scale(0.85,1)" x="-14.7" y="5.2" font-size="15" letter-spacing="0.95">D21</text>
<rect x="1227.2" y="1194" width="14" height="36" fill="#9a9a9a" rx="4.5"/>
<rect x="1229.2" y="1199" width="10" height="26" fill="#9a9a9a" stroke="#111" stroke-width="1.8"/>
<rect x="1230.2" y="1206.8" width="8" height="10.4" fill="#e8e8e8"/>
<rect x="1232.2" y="1206.3" width="4" height="11.4" fill="#1a1a1a"/>
<line x1="1240.5" y1="1199" x2="1240.5" y2="1226" stroke="#111" stroke-width="1"/>
<g transform="translate(1215,1213.2) rotate(-90)" fill="none" stroke="#111" stroke-width="1.5">
<path d="M-16 0H16 M-6.5 -6.5V6.5 L5.9 0Z M5.9 -6.5V6.5"/>
</g>
<path d="M1207 1209l5 5m-1 -8l5 5" fill="none" stroke="#111" stroke-width="1" />
<text class="b" transform="translate(1254.5,1164.5) rotate(-90) scale(1.15,1)" x="-17.4" y="5.3" font-size="15.5" letter-spacing="-0.26">MCU</text>
<text class="b" transform="translate(1254.5,1220) rotate(-90) scale(1.15,1)" x="-17.4" y="5.3" font-size="15.5" letter-spacing="1.03">VDD</text>
<text class="a" transform="translate(1181,884.5) scale(0.85,1)" x="-14.7" y="5.2" font-size="15" letter-spacing="2.61">J19</text>
<rect x="1164.5" y="892.6" width="37" height="106.5" fill="none" stroke="#111" stroke-width="1.2"/>
<rect x="1167.5" y="895.6" width="31" height="100.5" fill="none" stroke="#111" stroke-width="1.6"/>
<rect x="1172" y="902.6" width="22" height="22" fill="#9a9a9a"/>
<circle cx="1183" cy="913.6" r="7.5" fill="#c6c6c6" stroke="none" stroke-width="0"/>
<rect x="1182.2" y="912.1" width="1.6" height="3" fill="#222"/>
<circle cx="1183" cy="945.9" r="10.5" fill="#9a9a9a" stroke="none" stroke-width="0"/>
<circle cx="1183" cy="945.9" r="7.1" fill="#c6c6c6" stroke="none" stroke-width="0"/>
<circle cx="1183" cy="978.2" r="10.5" fill="#9a9a9a" stroke="none" stroke-width="0"/>
<circle cx="1183" cy="978.2" r="7.1" fill="#c6c6c6" stroke="none" stroke-width="0"/>
<text class="L" transform="translate(1183.5,946.9) rotate(-90) scale(0.8,1)" x="-28.1" y="9.5" font-size="26" letter-spacing="7.75">J19</text>
<text class="a" transform="translate(1150,902.9) scale(0.85,1)" x="-4.2" y="5.2" font-size="15">1</text>
<text class="a" transform="translate(1155.5,989.5) scale(0.85,1)" x="-4.2" y="5.2" font-size="15">3</text>
<text class="b" transform="translate(1213.7,923.5) rotate(-90) scale(1.15,1)" x="-52.2" y="5.3" font-size="15.5" letter-spacing="2.17">VDDIO_SEL</text>
<text class="b" transform="translate(1213.7,1018.5) rotate(-90) scale(1.15,1)" x="-15.7" y="5.3" font-size="15.5" letter-spacing="3.16">J19</text>
<path d="M1232.9 890.9H1265.5L1272.5 897.9V1000H1232.9Z" fill="none" stroke="#111" stroke-width="1.2" />
<path d="M1235.9 893.9H1264.5L1269.5 898.9V997H1235.9Z" fill="none" stroke="#111" stroke-width="2" />
<rect x="1241.7" y="902.6" width="22" height="22" fill="#9a9a9a"/>
<circle cx="1252.7" cy="913.6" r="7.5" fill="#c6c6c6" stroke="none" stroke-width="0"/>
<rect x="1251.9" y="912.1" width="1.6" height="3" fill="#222"/>
<circle cx="1252.7" cy="945.9" r="10.5" fill="#9a9a9a" stroke="none" stroke-width="0"/>
<circle cx="1252.7" cy="945.9" r="7.1" fill="#c6c6c6" stroke="none" stroke-width="0"/>
<circle cx="1252.7" cy="978.2" r="10.5" fill="#9a9a9a" stroke="none" stroke-width="0"/>
<circle cx="1252.7" cy="978.2" r="7.1" fill="#c6c6c6" stroke="none" stroke-width="0"/>
<text class="L" transform="translate(1253.2,946.9) rotate(-90) scale(0.8,1)" x="-28.1" y="9.5" font-size="26" letter-spacing="7.75">J43</text>
<text class="a" transform="translate(1277.6,913.6) scale(0.85,1)" x="-4.2" y="5.2" font-size="15">1</text>
<text class="a" transform="translate(1282.2,947.5) rotate(-90) scale(0.85,1)" x="-14.7" y="5.2" font-size="15" letter-spacing="2.61">J43</text>
<path d="M1304.5 890.9H1335.4L1342.4 897.9V1000H1304.5Z" fill="none" stroke="#111" stroke-width="1.2" />
<path d="M1307.5 893.9H1334.4L1339.4 898.9V997H1307.5Z" fill="none" stroke="#111" stroke-width="2" />
<rect x="1312.5" y="902.6" width="22" height="22" fill="#9a9a9a"/>
<circle cx="1323.5" cy="913.6" r="7.5" fill="#c6c6c6" stroke="none" stroke-width="0"/>
<rect x="1322.7" y="912.1" width="1.6" height="3" fill="#222"/>
<circle cx="1323.5" cy="945.5" r="10.5" fill="#9a9a9a" stroke="none" stroke-width="0"/>
<circle cx="1323.5" cy="945.5" r="7.1" fill="#c6c6c6" stroke="none" stroke-width="0"/>
<circle cx="1323.5" cy="977.5" r="10.5" fill="#9a9a9a" stroke="none" stroke-width="0"/>
<circle cx="1323.5" cy="977.5" r="7.1" fill="#c6c6c6" stroke="none" stroke-width="0"/>
<text class="L" transform="translate(1324,946.5) rotate(-90) scale(0.8,1)" x="-28.1" y="9.5" font-size="26" letter-spacing="7.75">J42</text>
<text class="a" transform="translate(1347.8,913.6) scale(0.85,1)" x="-4.2" y="5.2" font-size="15">1</text>
<text class="a" transform="translate(1353.7,947.5) rotate(-90) scale(0.85,1)" x="-14.7" y="5.2" font-size="15" letter-spacing="2.61">J42</text>
<rect x="1164.3" y="1010.4" width="37.2" height="108.2" fill="none" stroke="#111" stroke-width="1.2"/>
<rect x="1167.3" y="1013.4" width="31.2" height="102.2" fill="none" stroke="#111" stroke-width="1.6"/>
<rect x="1171.9" y="1021" width="22" height="22" fill="#9a9a9a"/>
<circle cx="1182.9" cy="1032" r="7.5" fill="#c6c6c6" stroke="none" stroke-width="0"/>
<rect x="1182.1" y="1030.5" width="1.6" height="3" fill="#222"/>
<circle cx="1182.9" cy="1064.6" r="10.5" fill="#9a9a9a" stroke="none" stroke-width="0"/>
<circle cx="1182.9" cy="1064.6" r="7.1" fill="#c6c6c6" stroke="none" stroke-width="0"/>
<circle cx="1182.9" cy="1097.2" r="10.5" fill="#9a9a9a" stroke="none" stroke-width="0"/>
<circle cx="1182.9" cy="1097.2" r="7.1" fill="#c6c6c6" stroke="none" stroke-width="0"/>
<text class="L" transform="translate(1183.4,1065.6) rotate(-90) scale(0.8,1)" x="-28.1" y="9.5" font-size="26" letter-spacing="7.75">J36</text>
<text class="a" transform="translate(1158.7,1036.7) scale(0.85,1)" x="-4.2" y="5.2" font-size="15">1</text>
<text class="a" transform="translate(1156.1,1100.9) scale(0.85,1)" x="-4.2" y="5.2" font-size="15">3</text>
<text class="a" transform="translate(1180.7,1127) scale(0.85,1)" x="-14.7" y="5.2" font-size="15" letter-spacing="2.61">J36</text>
<path d="M1232.5 1008.4H1265.7L1272.7 1015.4V1120.5H1232.5Z" fill="none" stroke="#111" stroke-width="1.2" />
<path d="M1235.5 1011.4H1264.7L1269.7 1016.4V1117.5H1235.5Z" fill="none" stroke="#111" stroke-width="2" />
<rect x="1241.6" y="1021" width="22" height="22" fill="#9a9a9a"/>
<circle cx="1252.6" cy="1032" r="7.5" fill="#c6c6c6" stroke="none" stroke-width="0"/>
<rect x="1251.8" y="1030.5" width="1.6" height="3" fill="#222"/>
<circle cx="1252.6" cy="1064.6" r="10.5" fill="#9a9a9a" stroke="none" stroke-width="0"/>
<circle cx="1252.6" cy="1064.6" r="7.1" fill="#c6c6c6" stroke="none" stroke-width="0"/>
<circle cx="1252.6" cy="1097.2" r="10.5" fill="#9a9a9a" stroke="none" stroke-width="0"/>
<circle cx="1252.6" cy="1097.2" r="7.1" fill="#c6c6c6" stroke="none" stroke-width="0"/>
<text class="L" transform="translate(1253.1,1065.6) rotate(-90) scale(0.8,1)" x="-28.1" y="9.5" font-size="26" letter-spacing="7.75">J47</text>
<text class="a" transform="translate(1279.6,1032.4) scale(0.85,1)" x="-4.2" y="5.2" font-size="15">1</text>
<text class="a" transform="translate(1249.6,1130) scale(0.85,1)" x="-14.7" y="5.2" font-size="15" letter-spacing="2.61">J47</text>
<path d="M1304.4 1008.4H1335.9L1342.9 1015.4V1120.5H1304.4Z" fill="none" stroke="#111" stroke-width="1.2" />
<path d="M1307.4 1011.4H1334.9L1339.9 1016.4V1117.5H1307.4Z" fill="none" stroke="#111" stroke-width="2" />
<rect x="1312.7" y="1021" width="22" height="22" fill="#9a9a9a"/>
<circle cx="1323.7" cy="1032" r="7.5" fill="#c6c6c6" stroke="none" stroke-width="0"/>
<rect x="1322.9" y="1030.5" width="1.6" height="3" fill="#222"/>
<circle cx="1323.7" cy="1064.6" r="10.5" fill="#9a9a9a" stroke="none" stroke-width="0"/>
<circle cx="1323.7" cy="1064.6" r="7.1" fill="#c6c6c6" stroke="none" stroke-width="0"/>
<circle cx="1323.7" cy="1097.2" r="10.5" fill="#9a9a9a" stroke="none" stroke-width="0"/>
<circle cx="1323.7" cy="1097.2" r="7.1" fill="#c6c6c6" stroke="none" stroke-width="0"/>
<text class="L" transform="translate(1324.2,1065.6) rotate(-90) scale(0.8,1)" x="-28.1" y="9.5" font-size="26" letter-spacing="7.75">J46</text>
<text class="a" transform="translate(1348,1032.4) scale(0.85,1)" x="-4.2" y="5.2" font-size="15">1</text>
<text class="a" transform="translate(1323.6,1130) scale(0.85,1)" x="-14.7" y="5.2" font-size="15" letter-spacing="2.61">J46</text>
<text class="b" transform="translate(1107,930) scale(1.15,1)" x="-46.1" y="5.3" font-size="15.5" letter-spacing="4.80">1-2:1.8V</text>
<text class="b" transform="translate(1107,956) scale(1.15,1)" x="-46.1" y="5.3" font-size="15.5" letter-spacing="4.80">2-3:3.3V</text>
<text class="a" transform="translate(1194.4,816) scale(0.85,1)" x="-19.9" y="5.2" font-size="15" letter-spacing="1.30">TP21</text>
<text class="b" transform="translate(1193.4,833) scale(1.15,1)" x="-16.5" y="5.2" font-size="15" letter-spacing="-0.14">GND</text>
<circle cx="1237.2" cy="830.2" r="22.7" fill="none" stroke="#111" stroke-width="1.8"/>
<circle cx="1237.2" cy="830.2" r="20.9" fill="none" stroke="#777" stroke-width="1.2"/>
<circle cx="1237.2" cy="830.2" r="19.2" fill="none" stroke="#111" stroke-width="1.8"/>
<circle cx="1237.2" cy="830.2" r="14.6" fill="#9a9a9a" stroke="none" stroke-width="0"/>
<circle cx="1237.2" cy="830.2" r="10" fill="#c6c6c6" stroke="none" stroke-width="0"/>
<rect x="1231.7" y="829" width="11" height="3.2" fill="#222"/>
<text class="a" transform="translate(1271,873) scale(0.85,1)" x="-19.9" y="5.2" font-size="15" letter-spacing="1.30">TP31</text>
<circle cx="1297.5" cy="873.3" r="7.5" fill="none" stroke="#1a1a1a" stroke-width="1.2"/>
<circle cx="1297.5" cy="873.3" r="5.3" fill="none" stroke="#1a1a1a" stroke-width="1.1"/>
<circle cx="1297.5" cy="873.3" r="4.2" fill="#9a9a9a" stroke="none" stroke-width="0"/>
<rect x="1294.5" y="871.8" width="6" height="3" fill="#222"/>
<circle cx="1316.2" cy="873.3" r="7.5" fill="none" stroke="#1a1a1a" stroke-width="1.2"/>
<circle cx="1316.2" cy="873.3" r="5.3" fill="none" stroke="#1a1a1a" stroke-width="1.1"/>
<circle cx="1316.2" cy="873.3" r="4.2" fill="#9a9a9a" stroke="none" stroke-width="0"/>
<rect x="1313.2" y="871.8" width="6" height="3" fill="#222"/>
<text class="a" transform="translate(1345,873) scale(0.85,1)" x="-19.9" y="5.2" font-size="15" letter-spacing="1.30">TP32</text>
<text class="a" transform="translate(1297.9,808.5) rotate(-90) scale(0.85,1)" x="-19.9" y="5.2" font-size="15" letter-spacing="1.30">R216</text>
<rect x="1291.2" y="830" width="13.4" height="30.4" fill="#9a9a9a" rx="4.5"/>
<rect x="1293.2" y="835" width="9.4" height="20.4" fill="#9a9a9a" stroke="#111" stroke-width="1.8"/>
<rect x="1294.2" y="841.1" width="7.4" height="8.2" fill="#e8e8e8"/>
<rect x="1295.9" y="840.7" width="4" height="9" fill="#1a1a1a"/>
<text class="a" transform="translate(1316.2,808.5) rotate(-90) scale(0.85,1)" x="-19.9" y="5.2" font-size="15" letter-spacing="1.30">R215</text>
<rect x="1309.5" y="830" width="13.4" height="30.4" fill="#9a9a9a" rx="4.5"/>
<rect x="1311.5" y="835" width="9.4" height="20.4" fill="#9a9a9a" stroke="#111" stroke-width="1.8"/>
<rect x="1312.5" y="841.1" width="7.4" height="8.2" fill="#e8e8e8"/>
<rect x="1314.2" y="840.7" width="4" height="9" fill="#1a1a1a"/>
<text class="a" transform="translate(1338.5,808.5) rotate(-90) scale(0.85,1)" x="-19.9" y="5.2" font-size="15" letter-spacing="1.30">R218</text>
<rect x="1331.8" y="830" width="13.4" height="30.4" fill="#9a9a9a" rx="4.5"/>
<rect x="1333.8" y="835" width="9.4" height="20.4" fill="#9a9a9a" stroke="#111" stroke-width="1.8"/>
<rect x="1334.8" y="841.1" width="7.4" height="8.2" fill="#e8e8e8"/>
<rect x="1336.5" y="840.7" width="4" height="9" fill="#1a1a1a"/>
<text class="a" transform="translate(1356,808.5) rotate(-90) scale(0.85,1)" x="-19.9" y="5.2" font-size="15" letter-spacing="1.30">R217</text>
<rect x="1349.3" y="830" width="13.4" height="30.4" fill="#9a9a9a" rx="4.5"/>
<rect x="1351.3" y="835" width="9.4" height="20.4" fill="#9a9a9a" stroke="#111" stroke-width="1.8"/>
<rect x="1352.3" y="841.1" width="7.4" height="8.2" fill="#e8e8e8"/>
<rect x="1354" y="840.7" width="4" height="9" fill="#1a1a1a"/>
<text class="a" transform="translate(1379.4,841) scale(0.85,1)" x="-14.7" y="5.2" font-size="15" letter-spacing="0.95">C97</text>
<rect x="1369.6" y="849.7" width="19.7" height="8.4" fill="#9a9a9a" rx="3"/>
<rect x="1372.6" y="850.7" width="13.7" height="6.4" fill="#666" stroke="#111" stroke-width="1.6"/>
<text class="a" transform="translate(1400.5,853.5) rotate(-90) scale(0.85,1)" x="-14.7" y="5.2" font-size="15" letter-spacing="0.95">R95</text>
<rect x="1407.9" y="855.4" width="8.7" height="19.9" fill="#9a9a9a" rx="3"/>
<rect x="1408.9" y="858.4" width="6.7" height="13.4" fill="#666" stroke="#111" stroke-width="1.6"/>
<rect x="1420.8" y="855.4" width="8.7" height="19.9" fill="#9a9a9a" rx="3"/>
<rect x="1421.8" y="858.4" width="6.7" height="13.4" fill="#666" stroke="#111" stroke-width="1.6"/>
<text class="a" transform="translate(1395.8,895.5) rotate(-90) scale(0.85,1)" x="-14.7" y="5.2" font-size="15" letter-spacing="0.95">R91</text>
<rect x="1405.5" y="880.4" width="13.4" height="30.4" fill="#9a9a9a" rx="4.5"/>
<rect x="1407.5" y="885.4" width="9.4" height="20.4" fill="#9a9a9a" stroke="#111" stroke-width="1.8"/>
<rect x="1408.5" y="891.5" width="7.4" height="8.2" fill="#e8e8e8"/>
<rect x="1410.2" y="891.1" width="4" height="9" fill="#1a1a1a"/>
<text class="a" transform="translate(1431,892) rotate(-90) scale(0.85,1)" x="-14.7" y="5.2" font-size="15" letter-spacing="0.95">C74</text>
<text class="a" transform="translate(1422.8,790.5) rotate(-90) scale(0.85,1)" x="-14.7" y="5.2" font-size="15" letter-spacing="0.95">C95</text>
<text class="a" transform="translate(1443.8,786) rotate(-90) scale(0.85,1)" x="-19.9" y="5.2" font-size="15" letter-spacing="1.30">C102</text>
<text class="a" transform="translate(1464.9,786) rotate(-90) scale(0.85,1)" x="-19.9" y="5.2" font-size="15" letter-spacing="1.30">C104</text>
<text class="a" transform="translate(1485.3,790.5) rotate(-90) scale(0.85,1)" x="-14.7" y="5.2" font-size="15" letter-spacing="0.95">C94</text>
<text class="a" transform="translate(1505.9,790.5) rotate(-90) scale(0.85,1)" x="-14.7" y="5.2" font-size="15" letter-spacing="0.95">C90</text>
<rect x="1424.4" y="811.5" width="15.3" height="29.6" fill="#9a9a9a" rx="4.5"/>
<rect x="1427.4" y="815.5" width="9.3" height="20.6" fill="#9a9a9a" stroke="#111" stroke-width="1.7"/>
<rect x="1422.4" y="823.4" width="18.8" height="4.8" fill="#fff" stroke="#111" stroke-width="1.5"/>
<rect x="1430.6" y="820.8" width="3" height="10" fill="#333"/>
<rect x="1444.8" y="811.5" width="15.3" height="29.6" fill="#9a9a9a" rx="4.5"/>
<rect x="1447.8" y="815.5" width="9.3" height="20.6" fill="#9a9a9a" stroke="#111" stroke-width="1.7"/>
<rect x="1442.8" y="823.4" width="18.8" height="4.8" fill="#fff" stroke="#111" stroke-width="1.5"/>
<rect x="1451" y="820.8" width="3" height="10" fill="#333"/>
<rect x="1465.9" y="811.5" width="15.3" height="29.6" fill="#9a9a9a" rx="4.5"/>
<rect x="1468.9" y="815.5" width="9.3" height="20.6" fill="#9a9a9a" stroke="#111" stroke-width="1.7"/>
<rect x="1463.9" y="823.4" width="18.8" height="4.8" fill="#fff" stroke="#111" stroke-width="1.5"/>
<rect x="1472.1" y="820.8" width="3" height="10" fill="#333"/>
<rect x="1486.5" y="811.5" width="15.3" height="29.6" fill="#9a9a9a" rx="4.5"/>
<rect x="1489.5" y="815.5" width="9.3" height="20.6" fill="#9a9a9a" stroke="#111" stroke-width="1.7"/>
<rect x="1484.5" y="823.4" width="18.8" height="4.8" fill="#fff" stroke="#111" stroke-width="1.5"/>
<rect x="1492.7" y="820.8" width="3" height="10" fill="#333"/>
<rect x="1514.9" y="814.3" width="13.4" height="30.4" fill="#9a9a9a" rx="4.5"/>
<rect x="1516.9" y="819.3" width="9.4" height="20.4" fill="#9a9a9a" stroke="#111" stroke-width="1.8"/>
<rect x="1517.9" y="825.4" width="7.4" height="8.2" fill="#e8e8e8"/>
<rect x="1519.6" y="825" width="4" height="9" fill="#1a1a1a"/>
<rect x="1534.3" y="814.3" width="13.4" height="30.4" fill="#9a9a9a" rx="4.5"/>
<rect x="1536.3" y="819.3" width="9.4" height="20.4" fill="#9a9a9a" stroke="#111" stroke-width="1.8"/>
<rect x="1537.3" y="825.4" width="7.4" height="8.2" fill="#e8e8e8"/>
<rect x="1539" y="825" width="4" height="9" fill="#1a1a1a"/>
<rect x="1513.4" y="773.5" width="15.3" height="29.6" fill="#9a9a9a" rx="4.5"/>
<rect x="1516.4" y="777.5" width="9.3" height="20.6" fill="#9a9a9a" stroke="#111" stroke-width="1.7"/>
<rect x="1511.4" y="785.4" width="18.8" height="4.8" fill="#fff" stroke="#111" stroke-width="1.5"/>
<rect x="1519.6" y="782.8" width="3" height="10" fill="#333"/>
<rect x="1536.7" y="780.9" width="8.7" height="19.9" fill="#9a9a9a" rx="3"/>
<rect x="1537.7" y="783.9" width="6.7" height="13.4" fill="#666" stroke="#111" stroke-width="1.6"/>
<text class="a" transform="translate(1555.6,791.5) rotate(-90) scale(0.85,1)" x="-14.7" y="5.2" font-size="15" letter-spacing="0.95">C91</text>
<rect x="1466.5" y="734.1" width="8.7" height="19.9" fill="#9a9a9a" rx="3"/>
<rect x="1467.5" y="737.1" width="6.7" height="13.4" fill="#666" stroke="#111" stroke-width="1.6"/>
<text class="a" transform="translate(1484.8,744.5) rotate(-90) scale(0.85,1)" x="-19.9" y="5.2" font-size="15" letter-spacing="1.30">C100</text>
<text class="a" transform="translate(1610.6,811) scale(0.85,1)" x="-14.7" y="5.2" font-size="15" letter-spacing="0.95">C98</text>
<text class="a" transform="translate(1602.4,825.5) scale(0.85,1)" x="-14.7" y="5.2" font-size="15" letter-spacing="0.95">C99</text>
<text class="a" transform="translate(1606.6,840) scale(0.85,1)" x="-19.9" y="5.2" font-size="15" letter-spacing="1.30">C153</text>
<rect x="1565.2" y="814.8" width="19.7" height="8.4" fill="#9a9a9a" rx="3"/>
<rect x="1568.2" y="815.8" width="13.7" height="6.4" fill="#666" stroke="#111" stroke-width="1.6"/>
<rect x="1565.2" y="825.3" width="19.7" height="8.4" fill="#9a9a9a" rx="3"/>
<rect x="1568.2" y="826.3" width="13.7" height="6.4" fill="#666" stroke="#111" stroke-width="1.6"/>
<rect x="1565.2" y="836.8" width="19.7" height="8.4" fill="#9a9a9a" rx="3"/>
<rect x="1568.2" y="837.8" width="13.7" height="6.4" fill="#666" stroke="#111" stroke-width="1.6"/>
<rect x="1604.2" y="847.1" width="30.5" height="13.6" fill="#9a9a9a" rx="4.5"/>
<rect x="1609.2" y="849.1" width="20.5" height="9.6" fill="#9a9a9a" stroke="#111" stroke-width="1.8"/>
<rect x="1615.4" y="850.1" width="8.2" height="7.6" fill="#e8e8e8"/>
<rect x="1615" y="851.9" width="9" height="4" fill="#1a1a1a"/>
<text class="a" transform="translate(1621.8,872) scale(0.85,1)" x="-19.9" y="5.2" font-size="15" letter-spacing="1.67">R118</text>
<rect x="1444.8" y="860.6" width="15.3" height="29.6" fill="#9a9a9a" rx="4.5"/>
<rect x="1447.8" y="864.6" width="9.3" height="20.6" fill="#9a9a9a" stroke="#111" stroke-width="1.7"/>
<rect x="1442.8" y="872.5" width="18.8" height="4.8" fill="#fff" stroke="#111" stroke-width="1.5"/>
<rect x="1451" y="869.9" width="3" height="10" fill="#333"/>
<rect x="1465.9" y="860.6" width="15.3" height="29.6" fill="#9a9a9a" rx="4.5"/>
<rect x="1468.9" y="864.6" width="9.3" height="20.6" fill="#9a9a9a" stroke="#111" stroke-width="1.7"/>
<rect x="1463.9" y="872.5" width="18.8" height="4.8" fill="#fff" stroke="#111" stroke-width="1.5"/>
<rect x="1472.1" y="869.9" width="3" height="10" fill="#333"/>
<text class="a" transform="translate(1453.2,909.5) rotate(-90) scale(0.85,1)" x="-19.9" y="5.2" font-size="15" letter-spacing="1.30">C101</text>
<text class="a" transform="translate(1474.8,909.5) rotate(-90) scale(0.85,1)" x="-19.9" y="5.2" font-size="15" letter-spacing="1.30">C103</text>
<g transform="translate(1497.7,866) rotate(-90)" fill="none" stroke="#111" stroke-width="1.5">
<path d="M-12 0H12 M-6 -6V6 L5.4 0Z M5.4 -6V6"/>
</g>
<g transform="translate(1497.7,878) rotate(-90)" fill="none" stroke="#111" stroke-width="1.5">
<path d="M-12 0H12 M-6 -6V6 L5.4 0Z M5.4 -6V6"/>
</g>
<text class="a" transform="translate(1498.9,898) rotate(-90) scale(0.85,1)" x="-14.7" y="5.2" font-size="15" letter-spacing="0.95">D20</text>
<rect x="1515.3" y="852.2" width="12.4" height="11.8" fill="#9a9a9a"/>
<rect x="1515.3" y="890" width="12.4" height="11.4" fill="#9a9a9a"/>
<rect x="1509.4" y="863.2" width="23.4" height="28.1" fill="none" stroke="#111" stroke-width="1.2"/>
<rect x="1512" y="865.5" width="18.5" height="23.5" fill="none" stroke="#111" stroke-width="1.6"/>
<rect x="1519" y="873" width="4" height="8" fill="#444"/>
<text class="a" transform="translate(1542.2,868) rotate(-90) scale(0.85,1)" x="-19.9" y="5.2" font-size="15" letter-spacing="1.30">R212</text>
<text class="a" transform="translate(1556.7,868) rotate(-90) scale(0.85,1)" x="-19.9" y="5.2" font-size="15" letter-spacing="1.67">R110</text>
<text class="a" transform="translate(1395.8,942.5) rotate(-90) scale(0.85,1)" x="-19.9" y="5.2" font-size="15" letter-spacing="1.30">R103</text>
<rect x="1403.7" y="929.2" width="8.7" height="19.9" fill="#9a9a9a" rx="3"/>
<rect x="1404.7" y="932.2" width="6.7" height="13.4" fill="#666" stroke="#111" stroke-width="1.6"/>
<rect x="1416.1" y="929.2" width="8.7" height="19.9" fill="#9a9a9a" rx="3"/>
<rect x="1417.1" y="932.2" width="6.7" height="13.4" fill="#666" stroke="#111" stroke-width="1.6"/>
<rect x="1427.8" y="929.2" width="8.7" height="19.9" fill="#9a9a9a" rx="3"/>
<rect x="1428.8" y="932.2" width="6.7" height="13.4" fill="#666" stroke="#111" stroke-width="1.6"/>
<rect x="1457.1" y="929.2" width="8.7" height="19.9" fill="#9a9a9a" rx="3"/>
<rect x="1458.1" y="932.2" width="6.7" height="13.4" fill="#666" stroke="#111" stroke-width="1.6"/>
<rect x="1469.2" y="929.2" width="8.7" height="19.9" fill="#9a9a9a" rx="3"/>
<rect x="1470.2" y="932.2" width="6.7" height="13.4" fill="#666" stroke="#111" stroke-width="1.6"/>
<rect x="1481.7" y="929.2" width="8.7" height="19.9" fill="#9a9a9a" rx="3"/>
<rect x="1482.7" y="932.2" width="6.7" height="13.4" fill="#666" stroke="#111" stroke-width="1.6"/>
<text class="a" transform="translate(1419.3,974.5) rotate(-90) scale(0.85,1)" x="-14.7" y="5.2" font-size="15" letter-spacing="0.95">R97</text>
<text class="a" transform="translate(1433.3,974.5) rotate(-90) scale(0.85,1)" x="-14.7" y="5.2" font-size="15" letter-spacing="0.95">C75</text>
<text class="a" transform="translate(1455.6,971.5) rotate(-90) scale(0.85,1)" x="-14.7" y="5.2" font-size="15" letter-spacing="0.95">C77</text>
<text class="a" transform="translate(1471.9,971.5) rotate(-90) scale(0.85,1)" x="-14.7" y="5.2" font-size="15" letter-spacing="0.95">C79</text>
<text class="a" transform="translate(1486,971.5) rotate(-90) scale(0.85,1)" x="-14.7" y="5.2" font-size="15" letter-spacing="0.95">C96</text>
<rect x="1393.9" y="1000.4" width="13.4" height="30.4" fill="#9a9a9a" rx="4.5"/>
<rect x="1395.9" y="1005.4" width="9.4" height="20.4" fill="#9a9a9a" stroke="#111" stroke-width="1.8"/>
<rect x="1396.9" y="1011.5" width="7.4" height="8.2" fill="#e8e8e8"/>
<rect x="1398.6" y="1011.1" width="4" height="9" fill="#1a1a1a"/>
<text class="a" transform="translate(1400.6,1051.4) rotate(-90) scale(0.85,1)" x="-19.9" y="5.2" font-size="15" letter-spacing="1.30">R100</text>
<rect x="1412.3" y="1000.4" width="13.4" height="30.4" fill="#9a9a9a" rx="4.5"/>
<rect x="1414.3" y="1005.4" width="9.4" height="20.4" fill="#9a9a9a" stroke="#111" stroke-width="1.8"/>
<rect x="1415.3" y="1011.5" width="7.4" height="8.2" fill="#e8e8e8"/>
<rect x="1417" y="1011.1" width="4" height="9" fill="#1a1a1a"/>
<text class="a" transform="translate(1419,1046.9) rotate(-90) scale(0.85,1)" x="-14.7" y="5.2" font-size="15" letter-spacing="0.95">R93</text>
<rect x="1430.5" y="1000.4" width="13.4" height="30.4" fill="#9a9a9a" rx="4.5"/>
<rect x="1432.5" y="1005.4" width="9.4" height="20.4" fill="#9a9a9a" stroke="#111" stroke-width="1.8"/>
<rect x="1433.5" y="1011.5" width="7.4" height="8.2" fill="#e8e8e8"/>
<rect x="1435.2" y="1011.1" width="4" height="9" fill="#1a1a1a"/>
<text class="a" transform="translate(1437.2,1046.9) rotate(-90) scale(0.85,1)" x="-14.7" y="5.2" font-size="15" letter-spacing="0.95">R92</text>
<rect x="1448.3" y="1000.4" width="13.4" height="30.4" fill="#9a9a9a" rx="4.5"/>
<rect x="1450.3" y="1005.4" width="9.4" height="20.4" fill="#9a9a9a" stroke="#111" stroke-width="1.8"/>
<rect x="1451.3" y="1011.5" width="7.4" height="8.2" fill="#e8e8e8"/>
<rect x="1453" y="1011.1" width="4" height="9" fill="#1a1a1a"/>
<text class="a" transform="translate(1455,1046.9) rotate(-90) scale(0.85,1)" x="-14.7" y="5.2" font-size="15" letter-spacing="0.95">R94</text>
<rect x="1467.1" y="1000.4" width="13.4" height="30.4" fill="#9a9a9a" rx="4.5"/>
<rect x="1469.1" y="1005.4" width="9.4" height="20.4" fill="#9a9a9a" stroke="#111" stroke-width="1.8"/>
<rect x="1470.1" y="1011.5" width="7.4" height="8.2" fill="#e8e8e8"/>
<rect x="1471.8" y="1011.1" width="4" height="9" fill="#1a1a1a"/>
<text class="a" transform="translate(1473.8,1051.4) rotate(-90) scale(0.85,1)" x="-19.9" y="5.2" font-size="15" letter-spacing="1.30">R101</text>
<text class="a" transform="translate(1361.6,1004.5) rotate(-90) scale(0.85,1)" x="-19.9" y="5.2" font-size="15" letter-spacing="1.30">R207</text>
<rect x="1353.3" y="1027" width="13.4" height="30.4" fill="#9a9a9a" rx="4.5"/>
<rect x="1355.3" y="1032" width="9.4" height="20.4" fill="#9a9a9a" stroke="#111" stroke-width="1.8"/>
<rect x="1356.3" y="1038.1" width="7.4" height="8.2" fill="#e8e8e8"/>
<rect x="1358" y="1037.7" width="4" height="9" fill="#1a1a1a"/>
<rect x="1496" y="917.5" width="79.3" height="320.6" fill="none" stroke="#000" stroke-width="5"/>
<text class="L" transform="translate(1533.4,1081) rotate(-90) scale(0.75,1)" x="-198" y="10.9" font-size="30" letter-spacing="8.67">SCH-XXXXX REV X</text>
<path d="M1337 1219.5L1378.3 1138.8L1419.5 1219.5" fill="none" stroke="#000" stroke-width="3" stroke-linejoin="miter"/>
<line x1="1335.5" y1="1219.8" x2="1421" y2="1219.8" stroke="#000" stroke-width="6"/>
<path d="M1358.5 1182.4L1415.4 1216.3" fill="none" stroke="#000" stroke-width="2.4" />
<path d="M1365 1183C1368 1178 1378 1176.5 1386 1179S1394 1180 1398 1179.5M1384 1196C1390 1196 1392 1190 1400 1189" fill="none" stroke="#000" stroke-width="1.8" />
<path d="M1357.5 1190.5h5M1359.5 1190V1206C1359.5 1209 1365 1209 1365 1206V1196C1365 1190 1370 1189 1376 1193" fill="none" stroke="#000" stroke-width="1.8" />
<path d="M1367.5 1207V1201C1367.5 1196 1372 1194 1384 1197M1367.5 1207C1368 1209.5 1372.5 1209.5 1372.5 1206V1203C1373 1200 1378 1199 1383 1199" fill="none" stroke="#000" stroke-width="1.8" />
<text class="a" transform="translate(1623.8,1150) scale(0.85,1)" x="-14.7" y="5.2" font-size="15" letter-spacing="0.12">BH2</text>
<circle cx="1620" cy="1198.4" r="41" fill="#9a9a9a" stroke="#111" stroke-width="1.9"/>
<circle cx="1620" cy="1198.4" r="38.2" fill="none" stroke="#222" stroke-width="1.6"/>
<circle cx="1620" cy="1198.4" r="19" fill="#c6c6c6" stroke="#222" stroke-width="1.5"/>
<text class="L" transform="translate(1620,1199.4) scale(0.8,1)" x="-43.8" y="14.6" font-size="40" letter-spacing="2.89">BH2</text>
<circle cx="1640.3" cy="1114" r="10" fill="#9a9a9a" stroke="none" stroke-width="0"/>
</svg>
</body></html>
